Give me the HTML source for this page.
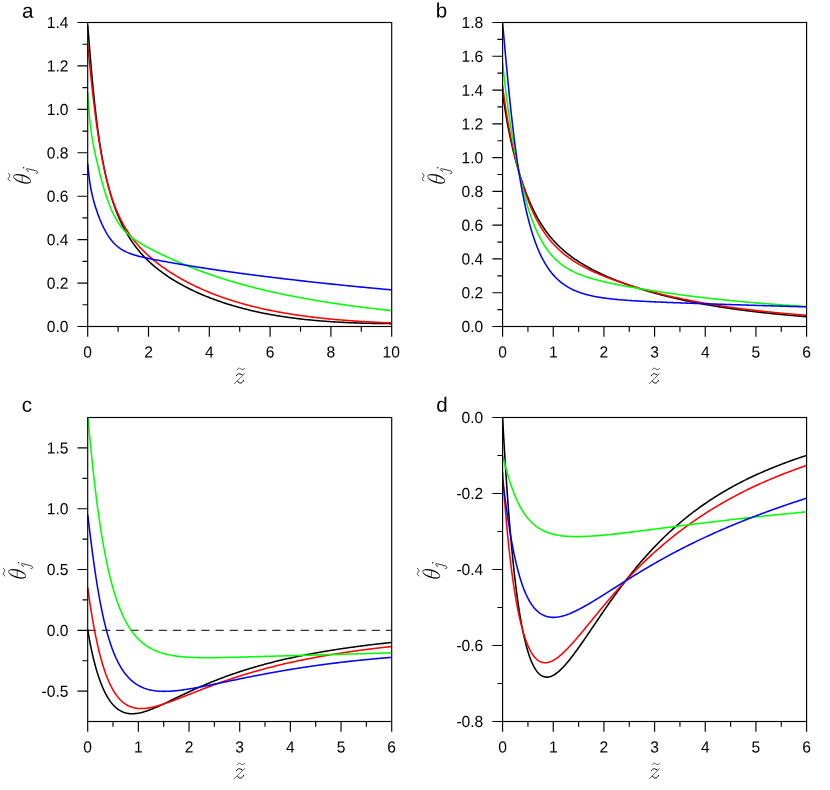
<!DOCTYPE html>
<html><head><meta charset="utf-8"><title>figure</title>
<style>
html,body{margin:0;padding:0;background:#fff;}
body{width:830px;height:790px;position:relative;overflow:hidden;font-family:"Liberation Sans",sans-serif;}
.tk{filter:grayscale(1);font-family:"Liberation Sans",sans-serif;font-size:16.1px;fill:#000;}
.pl{filter:grayscale(1);font-family:"Liberation Sans",sans-serif;font-size:20.6px;fill:#000;}
</style></head><body>
<svg width="830" height="790" viewBox="0 0 830 790" style="position:absolute;left:0;top:0;opacity:0.999">
<g>
<clipPath id="cpa"><rect x="87.10" y="22.30" width="305.20" height="304.40"/></clipPath>
<g clip-path="url(#cpa)" fill="none" stroke-width="1.55" stroke-linejoin="round">
<path d="M87.70 25.17 L87.95 28.26 L88.21 31.38 L88.46 34.50 L88.71 37.63 L88.97 40.75 L89.22 43.87 L89.47 46.97 L89.73 50.06 L89.98 53.12 L90.23 56.16 L90.49 59.17 L90.74 62.15 L90.99 65.09 L91.25 68.01 L91.50 70.88 L91.75 73.72 L92.01 76.52 L92.26 79.28 L92.51 82.00 L92.77 84.68 L93.02 87.31 L93.27 89.91 L93.53 92.47 L93.78 94.98 L94.03 97.45 L94.29 99.88 L94.54 102.27 L94.79 104.62 L95.05 106.93 L95.30 109.20 L95.55 111.43 L95.81 113.62 L96.06 115.77 L96.31 117.89 L96.57 119.96 L96.82 122.01 L97.07 124.01 L97.33 125.98 L97.58 127.92 L97.83 129.82 L98.09 131.69 L98.34 133.52 L98.59 135.33 L98.85 137.10 L99.10 138.84 L99.35 140.55 L99.61 142.23 L99.86 143.88 L100.11 145.51 L100.37 147.11 L100.62 148.68 L100.87 150.22 L101.13 151.74 L101.38 153.23 L101.63 154.70 L101.89 156.14 L102.14 157.56 L102.39 158.96 L102.65 160.33 L102.90 161.68 L103.15 163.01 L103.41 164.32 L103.66 165.61 L103.91 166.88 L104.17 168.13 L104.42 169.35 L104.67 170.56 L104.93 171.76 L105.18 172.93 L105.43 174.09 L105.69 175.22 L105.94 176.35 L106.19 177.45 L106.45 178.54 L106.70 179.61 L106.95 180.67 L107.21 181.71 L107.46 182.74 L107.71 183.75 L107.97 184.75 L108.22 185.74 L108.47 186.71 L108.73 187.67 L108.98 188.61 L109.23 189.54 L109.49 190.46 L109.74 191.37 L109.99 192.27 L110.25 193.15 L110.50 194.02 L110.75 194.88 L111.01 195.73 L111.26 196.57 L111.51 197.40 L111.77 198.22 L112.02 199.02 L112.27 199.82 L112.53 200.61 L112.78 201.39 L113.03 202.15 L113.29 202.91 L113.54 203.66 L113.79 204.40 L114.05 205.13 L114.30 205.86 L114.55 206.57 L114.81 207.28 L115.06 207.98 L115.31 208.67 L115.57 209.35 L115.82 210.02 L116.07 210.69 L116.33 211.35 L116.58 212.00 L116.83 212.65 L117.09 213.29 L117.34 213.92 L117.59 214.54 L117.85 215.16 L118.10 215.77 L119.24 218.45 L120.39 221.01 L121.53 223.45 L122.68 225.79 L123.82 228.03 L124.97 230.18 L126.11 232.24 L127.26 234.22 L128.40 236.12 L129.55 237.96 L130.69 239.73 L131.84 241.43 L132.98 243.08 L134.13 244.67 L135.27 246.21 L136.42 247.70 L137.56 249.14 L138.71 250.54 L139.85 251.90 L141.00 253.21 L142.14 254.49 L143.28 255.74 L144.43 256.95 L145.57 258.13 L146.72 259.28 L147.86 260.40 L149.01 261.49 L150.15 262.55 L151.30 263.59 L152.44 264.61 L153.59 265.60 L154.73 266.57 L155.88 267.52 L157.02 268.45 L158.17 269.36 L159.31 270.25 L160.46 271.12 L161.60 271.98 L162.75 272.82 L163.89 273.64 L165.04 274.45 L166.18 275.24 L167.33 276.02 L168.47 276.79 L169.61 277.54 L170.76 278.28 L171.90 279.01 L173.05 279.72 L174.19 280.42 L175.34 281.11 L176.48 281.79 L177.63 282.46 L178.77 283.12 L179.92 283.77 L181.06 284.41 L182.21 285.04 L183.35 285.66 L184.50 286.27 L185.64 286.87 L186.79 287.46 L187.93 288.04 L189.08 288.62 L190.22 289.19 L191.37 289.75 L192.51 290.30 L193.65 290.84 L194.80 291.38 L195.94 291.91 L197.09 292.43 L198.23 292.94 L199.38 293.45 L200.52 293.95 L201.67 294.44 L202.81 294.93 L203.96 295.41 L205.10 295.88 L206.25 296.35 L207.39 296.81 L208.54 297.27 L209.68 297.72 L210.83 298.16 L211.97 298.60 L213.12 299.03 L214.26 299.45 L215.41 299.87 L216.55 300.29 L217.69 300.70 L218.84 301.10 L219.98 301.50 L221.13 301.89 L222.27 302.28 L223.42 302.66 L224.56 303.04 L225.71 303.41 L226.85 303.78 L228.00 304.14 L229.14 304.50 L230.29 304.85 L231.43 305.20 L232.58 305.54 L233.72 305.88 L234.87 306.21 L236.01 306.54 L237.16 306.86 L238.30 307.18 L239.45 307.50 L240.59 307.81 L241.74 308.11 L242.88 308.42 L244.02 308.71 L245.17 309.01 L246.31 309.30 L247.46 309.58 L248.60 309.86 L249.75 310.14 L250.89 310.41 L252.04 310.68 L253.18 310.95 L254.33 311.21 L255.47 311.47 L256.62 311.72 L257.76 311.97 L258.91 312.22 L260.05 312.46 L261.20 312.70 L262.34 312.93 L263.49 313.16 L264.63 313.39 L265.78 313.62 L266.92 313.84 L268.06 314.06 L269.21 314.27 L270.35 314.48 L271.50 314.69 L272.64 314.89 L273.79 315.09 L274.93 315.29 L276.08 315.49 L277.22 315.68 L278.37 315.87 L279.51 316.05 L280.66 316.23 L281.80 316.41 L282.95 316.59 L284.09 316.76 L285.24 316.93 L286.38 317.10 L287.53 317.26 L288.67 317.42 L289.82 317.58 L290.96 317.74 L292.11 317.89 L293.25 318.04 L294.39 318.19 L295.54 318.34 L296.68 318.48 L297.83 318.62 L298.97 318.75 L300.12 318.89 L301.26 319.02 L302.41 319.15 L303.55 319.28 L304.70 319.40 L305.84 319.53 L306.99 319.65 L308.13 319.76 L309.28 319.88 L310.42 319.99 L311.57 320.10 L312.71 320.21 L313.86 320.32 L315.00 320.42 L316.15 320.53 L317.29 320.63 L318.43 320.72 L319.58 320.82 L320.72 320.91 L321.87 321.00 L323.01 321.09 L324.16 321.18 L325.30 321.27 L326.45 321.35 L327.59 321.43 L328.74 321.51 L329.88 321.59 L331.03 321.67 L332.17 321.74 L333.32 321.82 L334.46 321.89 L335.61 321.96 L336.75 322.02 L337.90 322.09 L339.04 322.15 L340.19 322.22 L341.33 322.28 L342.47 322.34 L343.62 322.39 L344.76 322.45 L345.91 322.50 L347.05 322.56 L348.20 322.61 L349.34 322.66 L350.49 322.71 L351.63 322.75 L352.78 322.80 L353.92 322.84 L355.07 322.89 L356.21 322.93 L357.36 322.97 L358.50 323.01 L359.65 323.04 L360.79 323.08 L361.94 323.11 L363.08 323.15 L364.23 323.18 L365.37 323.21 L366.52 323.24 L367.66 323.27 L368.80 323.30 L369.95 323.32 L371.09 323.35 L372.24 323.37 L373.38 323.40 L374.53 323.42 L375.67 323.44 L376.82 323.46 L377.96 323.48 L379.11 323.49 L380.25 323.51 L381.40 323.53 L382.54 323.54 L383.69 323.56 L384.83 323.57 L385.98 323.58 L387.12 323.59 L388.27 323.60 L389.41 323.61 L390.56 323.62 L391.70 323.63" stroke="#000000"/>
<path d="M87.70 44.38 L87.95 46.95 L88.21 49.53 L88.46 52.10 L88.71 54.67 L88.97 57.23 L89.22 59.79 L89.47 62.33 L89.73 64.86 L89.98 67.38 L90.23 69.87 L90.49 72.35 L90.74 74.81 L90.99 77.24 L91.25 79.66 L91.50 82.05 L91.75 84.41 L92.01 86.75 L92.26 89.07 L92.51 91.36 L92.77 93.62 L93.02 95.86 L93.27 98.06 L93.53 100.25 L93.78 102.40 L94.03 104.52 L94.29 106.62 L94.54 108.69 L94.79 110.73 L95.05 112.75 L95.30 114.73 L95.55 116.69 L95.81 118.63 L96.06 120.53 L96.31 122.41 L96.57 124.26 L96.82 126.08 L97.07 127.88 L97.33 129.65 L97.58 131.40 L97.83 133.12 L98.09 134.81 L98.34 136.48 L98.59 138.13 L98.85 139.75 L99.10 141.35 L99.35 142.92 L99.61 144.47 L99.86 146.00 L100.11 147.50 L100.37 148.98 L100.62 150.44 L100.87 151.88 L101.13 153.30 L101.38 154.69 L101.63 156.07 L101.89 157.42 L102.14 158.75 L102.39 160.07 L102.65 161.36 L102.90 162.64 L103.15 163.90 L103.41 165.13 L103.66 166.35 L103.91 167.56 L104.17 168.74 L104.42 169.91 L104.67 171.06 L104.93 172.19 L105.18 173.31 L105.43 174.41 L105.69 175.49 L105.94 176.56 L106.19 177.61 L106.45 178.65 L106.70 179.68 L106.95 180.68 L107.21 181.68 L107.46 182.66 L107.71 183.63 L107.97 184.58 L108.22 185.52 L108.47 186.45 L108.73 187.36 L108.98 188.26 L109.23 189.15 L109.49 190.03 L109.74 190.89 L109.99 191.74 L110.25 192.58 L110.50 193.41 L110.75 194.23 L111.01 195.04 L111.26 195.84 L111.51 196.62 L111.77 197.40 L112.02 198.17 L112.27 198.92 L112.53 199.67 L112.78 200.41 L113.03 201.13 L113.29 201.85 L113.54 202.56 L113.79 203.26 L114.05 203.95 L114.30 204.63 L114.55 205.31 L114.81 205.97 L115.06 206.63 L115.31 207.28 L115.57 207.92 L115.82 208.55 L116.07 209.18 L116.33 209.80 L116.58 210.41 L116.83 211.01 L117.09 211.61 L117.34 212.20 L117.59 212.78 L117.85 213.36 L118.10 213.93 L119.24 216.43 L120.39 218.80 L121.53 221.06 L122.68 223.22 L123.82 225.28 L124.97 227.25 L126.11 229.14 L127.26 230.95 L128.40 232.69 L129.55 234.37 L130.69 235.99 L131.84 237.55 L132.98 239.05 L134.13 240.51 L135.27 241.92 L136.42 243.29 L137.56 244.61 L138.71 245.90 L139.85 247.16 L141.00 248.38 L142.14 249.57 L143.28 250.72 L144.43 251.86 L145.57 252.96 L146.72 254.04 L147.86 255.10 L149.01 256.13 L150.15 257.14 L151.30 258.13 L152.44 259.10 L153.59 260.06 L154.73 260.99 L155.88 261.91 L157.02 262.81 L158.17 263.70 L159.31 264.57 L160.46 265.42 L161.60 266.26 L162.75 267.09 L163.89 267.90 L165.04 268.70 L166.18 269.49 L167.33 270.27 L168.47 271.03 L169.61 271.78 L170.76 272.53 L171.90 273.26 L173.05 273.98 L174.19 274.69 L175.34 275.39 L176.48 276.08 L177.63 276.76 L178.77 277.43 L179.92 278.09 L181.06 278.74 L182.21 279.38 L183.35 280.02 L184.50 280.64 L185.64 281.26 L186.79 281.87 L187.93 282.47 L189.08 283.06 L190.22 283.65 L191.37 284.23 L192.51 284.80 L193.65 285.36 L194.80 285.91 L195.94 286.46 L197.09 287.00 L198.23 287.54 L199.38 288.06 L200.52 288.58 L201.67 289.10 L202.81 289.60 L203.96 290.10 L205.10 290.60 L206.25 291.08 L207.39 291.57 L208.54 292.04 L209.68 292.51 L210.83 292.97 L211.97 293.43 L213.12 293.88 L214.26 294.32 L215.41 294.76 L216.55 295.20 L217.69 295.63 L218.84 296.05 L219.98 296.47 L221.13 296.88 L222.27 297.29 L223.42 297.69 L224.56 298.08 L225.71 298.48 L226.85 298.86 L228.00 299.24 L229.14 299.62 L230.29 299.99 L231.43 300.36 L232.58 300.72 L233.72 301.08 L234.87 301.43 L236.01 301.78 L237.16 302.12 L238.30 302.46 L239.45 302.80 L240.59 303.13 L241.74 303.46 L242.88 303.78 L244.02 304.10 L245.17 304.41 L246.31 304.72 L247.46 305.03 L248.60 305.33 L249.75 305.63 L250.89 305.92 L252.04 306.21 L253.18 306.50 L254.33 306.78 L255.47 307.06 L256.62 307.33 L257.76 307.60 L258.91 307.87 L260.05 308.14 L261.20 308.40 L262.34 308.66 L263.49 308.91 L264.63 309.16 L265.78 309.41 L266.92 309.65 L268.06 309.89 L269.21 310.13 L270.35 310.37 L271.50 310.60 L272.64 310.82 L273.79 311.05 L274.93 311.27 L276.08 311.49 L277.22 311.71 L278.37 311.92 L279.51 312.13 L280.66 312.34 L281.80 312.54 L282.95 312.74 L284.09 312.94 L285.24 313.14 L286.38 313.33 L287.53 313.53 L288.67 313.71 L289.82 313.90 L290.96 314.08 L292.11 314.26 L293.25 314.44 L294.39 314.62 L295.54 314.79 L296.68 314.96 L297.83 315.13 L298.97 315.30 L300.12 315.46 L301.26 315.62 L302.41 315.78 L303.55 315.94 L304.70 316.09 L305.84 316.24 L306.99 316.39 L308.13 316.54 L309.28 316.69 L310.42 316.83 L311.57 316.97 L312.71 317.11 L313.86 317.25 L315.00 317.39 L316.15 317.52 L317.29 317.65 L318.43 317.78 L319.58 317.91 L320.72 318.03 L321.87 318.16 L323.01 318.28 L324.16 318.40 L325.30 318.52 L326.45 318.64 L327.59 318.75 L328.74 318.87 L329.88 318.98 L331.03 319.09 L332.17 319.19 L333.32 319.30 L334.46 319.41 L335.61 319.51 L336.75 319.61 L337.90 319.71 L339.04 319.81 L340.19 319.91 L341.33 320.00 L342.47 320.10 L343.62 320.19 L344.76 320.28 L345.91 320.37 L347.05 320.46 L348.20 320.54 L349.34 320.63 L350.49 320.71 L351.63 320.80 L352.78 320.88 L353.92 320.96 L355.07 321.04 L356.21 321.11 L357.36 321.19 L358.50 321.26 L359.65 321.34 L360.79 321.41 L361.94 321.48 L363.08 321.55 L364.23 321.62 L365.37 321.68 L366.52 321.75 L367.66 321.82 L368.80 321.88 L369.95 321.94 L371.09 322.00 L372.24 322.06 L373.38 322.12 L374.53 322.18 L375.67 322.24 L376.82 322.30 L377.96 322.35 L379.11 322.40 L380.25 322.46 L381.40 322.51 L382.54 322.56 L383.69 322.61 L384.83 322.66 L385.98 322.71 L387.12 322.76 L388.27 322.80 L389.41 322.85 L390.56 322.89 L391.70 322.94" stroke="#ff0000"/>
<path d="M87.70 92.07 L87.95 96.48 L88.21 100.55 L88.46 104.31 L88.71 107.79 L88.97 111.01 L89.22 114.00 L89.47 116.79 L89.73 119.39 L89.98 121.83 L90.23 124.11 L90.49 126.27 L90.74 128.31 L90.99 130.24 L91.25 132.07 L91.50 133.82 L91.75 135.50 L92.01 137.11 L92.26 138.65 L92.51 140.15 L92.77 141.59 L93.02 142.99 L93.27 144.36 L93.53 145.69 L93.78 146.99 L94.03 148.26 L94.29 149.51 L94.54 150.73 L94.79 151.94 L95.05 153.13 L95.30 154.30 L95.55 155.46 L95.81 156.61 L96.06 157.74 L96.31 158.86 L96.57 159.97 L96.82 161.07 L97.07 162.16 L97.33 163.24 L97.58 164.32 L97.83 165.38 L98.09 166.44 L98.34 167.49 L98.59 168.53 L98.85 169.57 L99.10 170.59 L99.35 171.61 L99.61 172.62 L99.86 173.62 L100.11 174.62 L100.37 175.60 L100.62 176.58 L100.87 177.55 L101.13 178.51 L101.38 179.47 L101.63 180.41 L101.89 181.35 L102.14 182.27 L102.39 183.19 L102.65 184.10 L102.90 185.00 L103.15 185.90 L103.41 186.78 L103.66 187.65 L103.91 188.51 L104.17 189.37 L104.42 190.21 L104.67 191.05 L104.93 191.87 L105.18 192.69 L105.43 193.50 L105.69 194.29 L105.94 195.08 L106.19 195.86 L106.45 196.63 L106.70 197.38 L106.95 198.13 L107.21 198.87 L107.46 199.60 L107.71 200.32 L107.97 201.03 L108.22 201.73 L108.47 202.42 L108.73 203.10 L108.98 203.77 L109.23 204.43 L109.49 205.09 L109.74 205.73 L109.99 206.37 L110.25 206.99 L110.50 207.61 L110.75 208.22 L111.01 208.81 L111.26 209.40 L111.51 209.99 L111.77 210.56 L112.02 211.12 L112.27 211.68 L112.53 212.23 L112.78 212.77 L113.03 213.30 L113.29 213.82 L113.54 214.34 L113.79 214.85 L114.05 215.35 L114.30 215.84 L114.55 216.33 L114.81 216.81 L115.06 217.28 L115.31 217.74 L115.57 218.20 L115.82 218.65 L116.07 219.09 L116.33 219.53 L116.58 219.96 L116.83 220.38 L117.09 220.80 L117.34 221.21 L117.59 221.62 L117.85 222.02 L118.10 222.41 L119.24 224.12 L120.39 225.71 L121.53 227.21 L122.68 228.61 L123.82 229.93 L124.97 231.18 L126.11 232.35 L127.26 233.46 L128.40 234.52 L129.55 235.52 L130.69 236.47 L131.84 237.39 L132.98 238.26 L134.13 239.10 L135.27 239.91 L136.42 240.69 L137.56 241.45 L138.71 242.19 L139.85 242.90 L141.00 243.60 L142.14 244.28 L143.28 244.94 L144.43 245.60 L145.57 246.24 L146.72 246.87 L147.86 247.49 L149.01 248.10 L150.15 248.70 L151.30 249.30 L152.44 249.89 L153.59 250.47 L154.73 251.05 L155.88 251.62 L157.02 252.18 L158.17 252.75 L159.31 253.30 L160.46 253.86 L161.60 254.40 L162.75 254.95 L163.89 255.49 L165.04 256.03 L166.18 256.56 L167.33 257.09 L168.47 257.62 L169.61 258.14 L170.76 258.66 L171.90 259.18 L173.05 259.69 L174.19 260.20 L175.34 260.71 L176.48 261.21 L177.63 261.71 L178.77 262.20 L179.92 262.70 L181.06 263.19 L182.21 263.67 L183.35 264.15 L184.50 264.63 L185.64 265.11 L186.79 265.58 L187.93 266.05 L189.08 266.51 L190.22 266.98 L191.37 267.43 L192.51 267.89 L193.65 268.34 L194.80 268.79 L195.94 269.23 L197.09 269.67 L198.23 270.11 L199.38 270.54 L200.52 270.97 L201.67 271.40 L202.81 271.82 L203.96 272.24 L205.10 272.66 L206.25 273.07 L207.39 273.48 L208.54 273.89 L209.68 274.29 L210.83 274.69 L211.97 275.09 L213.12 275.48 L214.26 275.87 L215.41 276.26 L216.55 276.64 L217.69 277.02 L218.84 277.40 L219.98 277.77 L221.13 278.14 L222.27 278.51 L223.42 278.88 L224.56 279.24 L225.71 279.60 L226.85 279.95 L228.00 280.30 L229.14 280.65 L230.29 281.00 L231.43 281.34 L232.58 281.68 L233.72 282.02 L234.87 282.36 L236.01 282.69 L237.16 283.02 L238.30 283.34 L239.45 283.67 L240.59 283.99 L241.74 284.31 L242.88 284.62 L244.02 284.94 L245.17 285.25 L246.31 285.55 L247.46 285.86 L248.60 286.16 L249.75 286.46 L250.89 286.76 L252.04 287.06 L253.18 287.35 L254.33 287.64 L255.47 287.93 L256.62 288.22 L257.76 288.50 L258.91 288.78 L260.05 289.06 L261.20 289.34 L262.34 289.62 L263.49 289.89 L264.63 290.16 L265.78 290.43 L266.92 290.70 L268.06 290.96 L269.21 291.22 L270.35 291.48 L271.50 291.74 L272.64 292.00 L273.79 292.25 L274.93 292.50 L276.08 292.75 L277.22 293.00 L278.37 293.25 L279.51 293.50 L280.66 293.74 L281.80 293.98 L282.95 294.22 L284.09 294.46 L285.24 294.69 L286.38 294.93 L287.53 295.16 L288.67 295.39 L289.82 295.62 L290.96 295.84 L292.11 296.07 L293.25 296.29 L294.39 296.52 L295.54 296.74 L296.68 296.96 L297.83 297.17 L298.97 297.39 L300.12 297.60 L301.26 297.82 L302.41 298.03 L303.55 298.24 L304.70 298.44 L305.84 298.65 L306.99 298.86 L308.13 299.06 L309.28 299.26 L310.42 299.46 L311.57 299.66 L312.71 299.86 L313.86 300.05 L315.00 300.25 L316.15 300.44 L317.29 300.64 L318.43 300.83 L319.58 301.02 L320.72 301.20 L321.87 301.39 L323.01 301.58 L324.16 301.76 L325.30 301.94 L326.45 302.12 L327.59 302.31 L328.74 302.48 L329.88 302.66 L331.03 302.84 L332.17 303.01 L333.32 303.19 L334.46 303.36 L335.61 303.53 L336.75 303.70 L337.90 303.87 L339.04 304.04 L340.19 304.21 L341.33 304.37 L342.47 304.54 L343.62 304.70 L344.76 304.86 L345.91 305.02 L347.05 305.18 L348.20 305.34 L349.34 305.50 L350.49 305.66 L351.63 305.81 L352.78 305.97 L353.92 306.12 L355.07 306.27 L356.21 306.42 L357.36 306.58 L358.50 306.72 L359.65 306.87 L360.79 307.02 L361.94 307.17 L363.08 307.31 L364.23 307.46 L365.37 307.60 L366.52 307.74 L367.66 307.88 L368.80 308.02 L369.95 308.16 L371.09 308.30 L372.24 308.44 L373.38 308.57 L374.53 308.71 L375.67 308.84 L376.82 308.98 L377.96 309.11 L379.11 309.24 L380.25 309.37 L381.40 309.50 L382.54 309.63 L383.69 309.76 L384.83 309.88 L385.98 310.01 L387.12 310.13 L388.27 310.26 L389.41 310.38 L390.56 310.51 L391.70 310.63" stroke="#00ff00"/>
<path d="M87.70 163.51 L87.95 166.35 L88.21 168.99 L88.46 171.45 L88.71 173.74 L88.97 175.90 L89.22 177.91 L89.47 179.81 L89.73 181.59 L89.98 183.28 L90.23 184.88 L90.49 186.39 L90.74 187.83 L90.99 189.21 L91.25 190.52 L91.50 191.77 L91.75 192.98 L92.01 194.14 L92.26 195.25 L92.51 196.33 L92.77 197.38 L93.02 198.39 L93.27 199.37 L93.53 200.33 L93.78 201.26 L94.03 202.17 L94.29 203.05 L94.54 203.92 L94.79 204.77 L95.05 205.61 L95.30 206.42 L95.55 207.23 L95.81 208.02 L96.06 208.79 L96.31 209.56 L96.57 210.31 L96.82 211.05 L97.07 211.78 L97.33 212.50 L97.58 213.21 L97.83 213.91 L98.09 214.61 L98.34 215.29 L98.59 215.96 L98.85 216.63 L99.10 217.28 L99.35 217.93 L99.61 218.57 L99.86 219.20 L100.11 219.83 L100.37 220.44 L100.62 221.05 L100.87 221.65 L101.13 222.24 L101.38 222.82 L101.63 223.40 L101.89 223.97 L102.14 224.53 L102.39 225.09 L102.65 225.63 L102.90 226.17 L103.15 226.70 L103.41 227.23 L103.66 227.74 L103.91 228.25 L104.17 228.76 L104.42 229.25 L104.67 229.74 L104.93 230.22 L105.18 230.69 L105.43 231.16 L105.69 231.62 L105.94 232.07 L106.19 232.52 L106.45 232.96 L106.70 233.39 L106.95 233.82 L107.21 234.23 L107.46 234.65 L107.71 235.05 L107.97 235.45 L108.22 235.85 L108.47 236.23 L108.73 236.61 L108.98 236.99 L109.23 237.36 L109.49 237.72 L109.74 238.07 L109.99 238.42 L110.25 238.77 L110.50 239.11 L110.75 239.44 L111.01 239.77 L111.26 240.09 L111.51 240.41 L111.77 240.72 L112.02 241.02 L112.27 241.32 L112.53 241.62 L112.78 241.91 L113.03 242.19 L113.29 242.47 L113.54 242.75 L113.79 243.02 L114.05 243.29 L114.30 243.55 L114.55 243.81 L114.81 244.06 L115.06 244.31 L115.31 244.55 L115.57 244.79 L115.82 245.03 L116.07 245.26 L116.33 245.48 L116.58 245.71 L116.83 245.93 L117.09 246.14 L117.34 246.35 L117.59 246.56 L117.85 246.77 L118.10 246.97 L119.24 247.84 L120.39 248.64 L121.53 249.38 L122.68 250.07 L123.82 250.71 L124.97 251.30 L126.11 251.86 L127.26 252.38 L128.40 252.86 L129.55 253.32 L130.69 253.74 L131.84 254.15 L132.98 254.53 L134.13 254.89 L135.27 255.24 L136.42 255.57 L137.56 255.88 L138.71 256.19 L139.85 256.48 L141.00 256.76 L142.14 257.04 L143.28 257.30 L144.43 257.56 L145.57 257.81 L146.72 258.06 L147.86 258.30 L149.01 258.54 L150.15 258.77 L151.30 259.00 L152.44 259.23 L153.59 259.45 L154.73 259.68 L155.88 259.89 L157.02 260.11 L158.17 260.33 L159.31 260.54 L160.46 260.75 L161.60 260.96 L162.75 261.17 L163.89 261.38 L165.04 261.58 L166.18 261.79 L167.33 261.99 L168.47 262.20 L169.61 262.40 L170.76 262.60 L171.90 262.80 L173.05 263.00 L174.19 263.20 L175.34 263.40 L176.48 263.59 L177.63 263.79 L178.77 263.99 L179.92 264.18 L181.06 264.37 L182.21 264.57 L183.35 264.76 L184.50 264.95 L185.64 265.14 L186.79 265.33 L187.93 265.52 L189.08 265.70 L190.22 265.89 L191.37 266.08 L192.51 266.26 L193.65 266.45 L194.80 266.63 L195.94 266.81 L197.09 266.99 L198.23 267.17 L199.38 267.35 L200.52 267.53 L201.67 267.71 L202.81 267.89 L203.96 268.07 L205.10 268.24 L206.25 268.42 L207.39 268.59 L208.54 268.76 L209.68 268.94 L210.83 269.11 L211.97 269.28 L213.12 269.45 L214.26 269.62 L215.41 269.79 L216.55 269.95 L217.69 270.12 L218.84 270.29 L219.98 270.45 L221.13 270.62 L222.27 270.78 L223.42 270.95 L224.56 271.11 L225.71 271.27 L226.85 271.43 L228.00 271.59 L229.14 271.75 L230.29 271.91 L231.43 272.07 L232.58 272.23 L233.72 272.38 L234.87 272.54 L236.01 272.70 L237.16 272.85 L238.30 273.01 L239.45 273.16 L240.59 273.31 L241.74 273.47 L242.88 273.62 L244.02 273.77 L245.17 273.92 L246.31 274.07 L247.46 274.22 L248.60 274.37 L249.75 274.52 L250.89 274.67 L252.04 274.82 L253.18 274.97 L254.33 275.11 L255.47 275.26 L256.62 275.40 L257.76 275.55 L258.91 275.69 L260.05 275.84 L261.20 275.98 L262.34 276.13 L263.49 276.27 L264.63 276.41 L265.78 276.55 L266.92 276.70 L268.06 276.84 L269.21 276.98 L270.35 277.12 L271.50 277.26 L272.64 277.40 L273.79 277.54 L274.93 277.67 L276.08 277.81 L277.22 277.95 L278.37 278.09 L279.51 278.23 L280.66 278.36 L281.80 278.50 L282.95 278.63 L284.09 278.77 L285.24 278.90 L286.38 279.04 L287.53 279.17 L288.67 279.31 L289.82 279.44 L290.96 279.57 L292.11 279.70 L293.25 279.84 L294.39 279.97 L295.54 280.10 L296.68 280.23 L297.83 280.36 L298.97 280.49 L300.12 280.62 L301.26 280.75 L302.41 280.88 L303.55 281.01 L304.70 281.14 L305.84 281.27 L306.99 281.40 L308.13 281.52 L309.28 281.65 L310.42 281.78 L311.57 281.90 L312.71 282.03 L313.86 282.15 L315.00 282.28 L316.15 282.40 L317.29 282.53 L318.43 282.65 L319.58 282.78 L320.72 282.90 L321.87 283.02 L323.01 283.15 L324.16 283.27 L325.30 283.39 L326.45 283.51 L327.59 283.63 L328.74 283.76 L329.88 283.88 L331.03 284.00 L332.17 284.12 L333.32 284.24 L334.46 284.36 L335.61 284.48 L336.75 284.59 L337.90 284.71 L339.04 284.83 L340.19 284.95 L341.33 285.07 L342.47 285.18 L343.62 285.30 L344.76 285.41 L345.91 285.53 L347.05 285.65 L348.20 285.76 L349.34 285.88 L350.49 285.99 L351.63 286.10 L352.78 286.22 L353.92 286.33 L355.07 286.45 L356.21 286.56 L357.36 286.67 L358.50 286.78 L359.65 286.89 L360.79 287.01 L361.94 287.12 L363.08 287.23 L364.23 287.34 L365.37 287.45 L366.52 287.56 L367.66 287.67 L368.80 287.77 L369.95 287.88 L371.09 287.99 L372.24 288.10 L373.38 288.21 L374.53 288.31 L375.67 288.42 L376.82 288.53 L377.96 288.63 L379.11 288.74 L380.25 288.84 L381.40 288.95 L382.54 289.05 L383.69 289.16 L384.83 289.26 L385.98 289.37 L387.12 289.47 L388.27 289.57 L389.41 289.67 L390.56 289.78 L391.70 289.88" stroke="#0000ff"/>
</g>
<rect x="87.70" y="22.50" width="304.00" height="304.00" fill="none" stroke="#000" stroke-width="1.15"/>
<path d="M87.70 326.50 v10.2 M148.50 326.50 v10.2 M209.30 326.50 v10.2 M270.10 326.50 v10.2 M330.90 326.50 v10.2 M391.70 326.50 v10.2 M118.10 326.50 v5.2 M178.90 326.50 v5.2 M239.70 326.50 v5.2 M300.50 326.50 v5.2 M361.30 326.50 v5.2 M87.70 326.50 h-10.2 M87.70 283.07 h-10.2 M87.70 239.64 h-10.2 M87.70 196.21 h-10.2 M87.70 152.79 h-10.2 M87.70 109.36 h-10.2 M87.70 65.93 h-10.2 M87.70 22.50 h-10.2 M87.70 304.79 h-5.2 M87.70 261.36 h-5.2 M87.70 217.93 h-5.2 M87.70 174.50 h-5.2 M87.70 131.07 h-5.2 M87.70 87.64 h-5.2 M87.70 44.21 h-5.2" stroke="#000" stroke-width="1.15" fill="none"/>
<text transform="translate(87.70 357.40) scale(0.97 1) rotate(0.03)" text-anchor="middle" class="tk">0</text>
<text transform="translate(148.50 357.40) scale(0.97 1) rotate(0.03)" text-anchor="middle" class="tk">2</text>
<text transform="translate(209.30 357.40) scale(0.97 1) rotate(0.03)" text-anchor="middle" class="tk">4</text>
<text transform="translate(270.10 357.40) scale(0.97 1) rotate(0.03)" text-anchor="middle" class="tk">6</text>
<text transform="translate(330.90 357.40) scale(0.97 1) rotate(0.03)" text-anchor="middle" class="tk">8</text>
<text transform="translate(391.30 357.40) scale(0.97 1) rotate(0.03)" text-anchor="middle" class="tk">10</text>
<text transform="translate(68.40 332.10) scale(0.97 1) rotate(0.03)" text-anchor="end" class="tk">0.0</text>
<text transform="translate(68.40 288.67) scale(0.97 1) rotate(0.03)" text-anchor="end" class="tk">0.2</text>
<text transform="translate(68.40 245.24) scale(0.97 1) rotate(0.03)" text-anchor="end" class="tk">0.4</text>
<text transform="translate(68.40 201.81) scale(0.97 1) rotate(0.03)" text-anchor="end" class="tk">0.6</text>
<text transform="translate(68.40 158.39) scale(0.97 1) rotate(0.03)" text-anchor="end" class="tk">0.8</text>
<text transform="translate(68.40 114.96) scale(0.97 1) rotate(0.03)" text-anchor="end" class="tk">1.0</text>
<text transform="translate(68.40 71.53) scale(0.97 1) rotate(0.03)" text-anchor="end" class="tk">1.2</text>
<text transform="translate(68.40 28.10) scale(0.97 1) rotate(0.03)" text-anchor="end" class="tk">1.4</text>
<text transform="translate(22.06 17.70) rotate(0.03)" class="pl">a</text>
<g transform="translate(239.70 326.50)"><g transform="translate(-5.4 46.6)" fill="none" stroke="#000" stroke-linecap="round" stroke-linejoin="round"><path d="M2 2.7 C2.9 1.3 4 0.55 5 0.6 C6.2 0.7 6.9 1.5 7.9 1.8" stroke-width="1.0"/><path d="M10.4 0.45 L0.05 10.65" stroke-width="0.6"/><path d="M3.3 8.2 C4.1 9.3 5 10 6 10 C7.4 10 8.7 8.9 9.3 7.2" stroke-width="1.0"/><path d="M3 -3.3 C3.6 -4.4 4.3 -5 5 -5 C6 -5 6.8 -3.6 7.9 -3.5 C8.9 -3.5 9.7 -4 10.4 -4.7" stroke-width="0.65"/></g>
</g>
<g transform="translate(87.70 174.50)"><g transform="translate(-56.7 8.8) rotate(-90)" stroke-linecap="round" stroke-linejoin="round"><g transform="translate(4.5 -8.85) skewX(-14.9)"><path fill="#000" fill-rule="evenodd" stroke="none" d="M0 -8.85 C2.4 -8.85 4.2 -4.9 4.2 0 C4.2 4.9 2.4 8.85 0 8.85 C-2.4 8.85 -4.2 4.9 -4.2 0 C-4.2 -4.9 -2.4 -8.85 0 -8.85 Z M0 -8.3 C1.6 -8.3 2.9 -4.6 2.9 0 C2.9 4.6 1.6 8.3 0 8.3 C-1.6 8.3 -2.9 4.6 -2.9 0 C-2.9 -4.6 -1.6 -8.3 0 -8.3 Z"/><path d="M-3.3 0.1 L3.3 0.1" stroke="#000" stroke-width="0.6" fill="none"/></g><path d="M2.4 -21.2 C3.1 -22.5 3.9 -23.1 4.8 -22.8 C5.8 -22.4 6.5 -21.3 7.5 -21.3 C8.5 -21.3 9.4 -21.9 10 -22.8" fill="none" stroke="#000" stroke-width="0.75"/><circle cx="15.6" cy="-7.4" r="0.7" fill="#000"/><path d="M11.9 -2.4 C12.5 -3.9 13.5 -4.9 14.2 -4.7 C14.8 -4.5 14.6 -3.4 14.4 -2.6 L12.6 4.6 C12.3 6 11.4 6.8 10.5 6.6 C9.8 6.4 9.5 5.6 9.9 4.9" fill="none" stroke="#000" stroke-width="0.8"/></g>
</g>
</g>
<g>
<clipPath id="cpb"><rect x="502.00" y="22.30" width="305.20" height="304.40"/></clipPath>
<g clip-path="url(#cpb)" fill="none" stroke-width="1.55" stroke-linejoin="round">
<path d="M502.60 92.11 L503.02 95.37 L503.44 98.51 L503.87 101.53 L504.29 104.45 L504.71 107.27 L505.13 110.00 L505.56 112.64 L505.98 115.21 L506.40 117.70 L506.82 120.13 L507.24 122.49 L507.67 124.79 L508.09 127.03 L508.51 129.22 L508.93 131.36 L509.36 133.45 L509.78 135.49 L510.20 137.50 L510.62 139.46 L511.04 141.39 L511.47 143.27 L511.89 145.13 L512.31 146.94 L512.73 148.73 L513.16 150.48 L513.58 152.21 L514.00 153.91 L514.42 155.57 L514.84 157.21 L515.27 158.83 L515.69 160.42 L516.11 161.98 L516.53 163.52 L516.96 165.04 L517.38 166.54 L517.80 168.01 L518.22 169.46 L518.64 170.89 L519.07 172.29 L519.49 173.68 L519.91 175.05 L520.33 176.39 L520.76 177.72 L521.18 179.03 L521.60 180.32 L522.02 181.60 L522.44 182.85 L522.87 184.09 L523.29 185.30 L523.71 186.51 L524.13 187.69 L524.56 188.86 L524.98 190.01 L525.40 191.15 L525.82 192.27 L526.24 193.37 L526.67 194.46 L527.09 195.53 L527.51 196.59 L527.93 197.64 L528.36 198.67 L528.78 199.68 L529.20 200.68 L529.62 201.67 L530.04 202.64 L530.47 203.60 L530.89 204.55 L531.31 205.48 L531.73 206.40 L532.16 207.31 L532.58 208.21 L533.00 209.09 L533.42 209.96 L533.84 210.82 L534.27 211.67 L534.69 212.50 L535.11 213.33 L535.53 214.14 L535.96 214.94 L536.38 215.73 L536.80 216.51 L537.22 217.28 L537.64 218.04 L538.07 218.79 L538.49 219.53 L538.91 220.26 L539.33 220.98 L539.76 221.69 L540.18 222.39 L540.60 223.08 L541.02 223.77 L541.44 224.44 L541.87 225.11 L542.29 225.76 L542.71 226.41 L543.13 227.05 L543.56 227.68 L543.98 228.30 L544.40 228.92 L544.82 229.52 L545.24 230.12 L545.67 230.71 L546.09 231.30 L546.51 231.88 L546.93 232.45 L547.36 233.01 L547.78 233.57 L548.20 234.11 L548.62 234.66 L549.04 235.19 L549.47 235.72 L549.89 236.25 L550.31 236.76 L550.73 237.27 L551.16 237.78 L551.58 238.28 L552.00 238.77 L552.42 239.26 L552.84 239.74 L553.27 240.21 L554.33 241.39 L555.39 242.53 L556.45 243.63 L557.51 244.71 L558.57 245.76 L559.63 246.78 L560.69 247.78 L561.75 248.75 L562.81 249.70 L563.87 250.62 L564.93 251.52 L565.99 252.40 L567.05 253.26 L568.11 254.11 L569.17 254.93 L570.23 255.73 L571.29 256.52 L572.35 257.29 L573.41 258.05 L574.47 258.79 L575.53 259.52 L576.59 260.23 L577.65 260.93 L578.71 261.62 L579.77 262.29 L580.83 262.95 L581.89 263.61 L582.95 264.25 L584.01 264.88 L585.07 265.49 L586.13 266.10 L587.19 266.70 L588.25 267.29 L589.31 267.88 L590.37 268.45 L591.43 269.01 L592.49 269.57 L593.55 270.12 L594.61 270.66 L595.67 271.20 L596.73 271.72 L597.79 272.24 L598.85 272.75 L599.91 273.26 L600.97 273.76 L602.03 274.25 L603.09 274.74 L604.15 275.22 L605.21 275.70 L606.27 276.17 L607.33 276.64 L608.39 277.09 L609.45 277.55 L610.51 278.00 L611.57 278.44 L612.63 278.88 L613.69 279.32 L614.75 279.74 L615.81 280.17 L616.86 280.59 L617.92 281.01 L618.98 281.42 L620.04 281.82 L621.10 282.23 L622.16 282.63 L623.22 283.02 L624.28 283.41 L625.34 283.80 L626.40 284.18 L627.46 284.56 L628.52 284.93 L629.58 285.30 L630.64 285.67 L631.70 286.04 L632.76 286.40 L633.82 286.75 L634.88 287.11 L635.94 287.46 L637.00 287.80 L638.06 288.15 L639.12 288.49 L640.18 288.82 L641.24 289.16 L642.30 289.49 L643.36 289.81 L644.42 290.14 L645.48 290.46 L646.54 290.77 L647.60 291.09 L648.66 291.40 L649.72 291.71 L650.78 292.02 L651.84 292.32 L652.90 292.62 L653.96 292.92 L655.02 293.21 L656.08 293.50 L657.14 293.79 L658.20 294.08 L659.26 294.36 L660.32 294.64 L661.38 294.92 L662.44 295.20 L663.50 295.47 L664.56 295.74 L665.62 296.01 L666.68 296.27 L667.74 296.54 L668.80 296.80 L669.86 297.06 L670.92 297.31 L671.98 297.56 L673.04 297.82 L674.10 298.07 L675.16 298.31 L676.22 298.56 L677.28 298.80 L678.34 299.04 L679.40 299.28 L680.46 299.51 L681.52 299.74 L682.58 299.98 L683.64 300.20 L684.70 300.43 L685.76 300.66 L686.82 300.88 L687.88 301.10 L688.94 301.32 L690.00 301.53 L691.06 301.75 L692.12 301.96 L693.18 302.17 L694.24 302.38 L695.30 302.59 L696.36 302.79 L697.42 303.00 L698.48 303.20 L699.54 303.40 L700.60 303.60 L701.66 303.79 L702.72 303.99 L703.78 304.18 L704.84 304.37 L705.90 304.56 L706.96 304.74 L708.02 304.93 L709.08 305.11 L710.14 305.30 L711.20 305.48 L712.26 305.66 L713.32 305.83 L714.38 306.01 L715.44 306.18 L716.50 306.36 L717.56 306.53 L718.62 306.70 L719.68 306.86 L720.74 307.03 L721.80 307.20 L722.86 307.36 L723.92 307.52 L724.98 307.68 L726.04 307.84 L727.10 308.00 L728.16 308.16 L729.22 308.31 L730.28 308.47 L731.34 308.62 L732.40 308.77 L733.46 308.92 L734.52 309.07 L735.58 309.22 L736.64 309.36 L737.70 309.51 L738.76 309.65 L739.82 309.79 L740.88 309.93 L741.94 310.07 L743.00 310.21 L744.06 310.35 L745.12 310.48 L746.18 310.62 L747.24 310.75 L748.30 310.89 L749.36 311.02 L750.42 311.15 L751.48 311.28 L752.54 311.41 L753.60 311.53 L754.66 311.66 L755.72 311.78 L756.78 311.91 L757.84 312.03 L758.90 312.15 L759.96 312.27 L761.02 312.39 L762.08 312.51 L763.14 312.63 L764.20 312.75 L765.26 312.86 L766.32 312.98 L767.38 313.09 L768.44 313.20 L769.50 313.32 L770.56 313.43 L771.62 313.54 L772.68 313.65 L773.74 313.76 L774.80 313.86 L775.86 313.97 L776.92 314.08 L777.98 314.18 L779.04 314.29 L780.10 314.39 L781.16 314.49 L782.22 314.59 L783.28 314.69 L784.34 314.79 L785.40 314.89 L786.46 314.99 L787.52 315.09 L788.58 315.19 L789.64 315.28 L790.70 315.38 L791.76 315.47 L792.82 315.57 L793.88 315.66 L794.94 315.75 L796.00 315.85 L797.06 315.94 L798.12 316.03 L799.18 316.12 L800.24 316.21 L801.30 316.29 L802.36 316.38 L803.42 316.47 L804.48 316.56 L805.54 316.64 L806.60 316.73" stroke="#000000"/>
<path d="M502.60 85.69 L503.02 89.08 L503.44 92.36 L503.87 95.53 L504.29 98.60 L504.71 101.59 L505.13 104.48 L505.56 107.30 L505.98 110.04 L506.40 112.71 L506.82 115.32 L507.24 117.86 L507.67 120.34 L508.09 122.77 L508.51 125.14 L508.93 127.47 L509.36 129.75 L509.78 131.98 L510.20 134.17 L510.62 136.31 L511.04 138.42 L511.47 140.49 L511.89 142.52 L512.31 144.52 L512.73 146.48 L513.16 148.41 L513.58 150.30 L514.00 152.17 L514.42 154.00 L514.84 155.81 L515.27 157.58 L515.69 159.33 L516.11 161.05 L516.53 162.74 L516.96 164.41 L517.38 166.05 L517.80 167.67 L518.22 169.26 L518.64 170.83 L519.07 172.37 L519.49 173.89 L519.91 175.39 L520.33 176.86 L520.76 178.31 L521.18 179.74 L521.60 181.15 L522.02 182.54 L522.44 183.91 L522.87 185.25 L523.29 186.58 L523.71 187.88 L524.13 189.17 L524.56 190.44 L524.98 191.69 L525.40 192.91 L525.82 194.12 L526.24 195.32 L526.67 196.49 L527.09 197.65 L527.51 198.79 L527.93 199.91 L528.36 201.01 L528.78 202.10 L529.20 203.17 L529.62 204.23 L530.04 205.27 L530.47 206.29 L530.89 207.30 L531.31 208.29 L531.73 209.27 L532.16 210.23 L532.58 211.18 L533.00 212.11 L533.42 213.03 L533.84 213.94 L534.27 214.83 L534.69 215.71 L535.11 216.57 L535.53 217.43 L535.96 218.27 L536.38 219.09 L536.80 219.91 L537.22 220.71 L537.64 221.50 L538.07 222.28 L538.49 223.05 L538.91 223.80 L539.33 224.55 L539.76 225.28 L540.18 226.00 L540.60 226.71 L541.02 227.42 L541.44 228.11 L541.87 228.79 L542.29 229.46 L542.71 230.12 L543.13 230.77 L543.56 231.41 L543.98 232.05 L544.40 232.67 L544.82 233.28 L545.24 233.89 L545.67 234.49 L546.09 235.08 L546.51 235.66 L546.93 236.23 L547.36 236.80 L547.78 237.35 L548.20 237.90 L548.62 238.44 L549.04 238.98 L549.47 239.50 L549.89 240.02 L550.31 240.53 L550.73 241.04 L551.16 241.54 L551.58 242.03 L552.00 242.52 L552.42 243.00 L552.84 243.47 L553.27 243.93 L554.33 245.08 L555.39 246.19 L556.45 247.26 L557.51 248.30 L558.57 249.31 L559.63 250.29 L560.69 251.24 L561.75 252.17 L562.81 253.06 L563.87 253.93 L564.93 254.78 L565.99 255.61 L567.05 256.41 L568.11 257.20 L569.17 257.96 L570.23 258.71 L571.29 259.43 L572.35 260.14 L573.41 260.84 L574.47 261.52 L575.53 262.18 L576.59 262.83 L577.65 263.46 L578.71 264.09 L579.77 264.70 L580.83 265.30 L581.89 265.88 L582.95 266.46 L584.01 267.03 L585.07 267.58 L586.13 268.13 L587.19 268.67 L588.25 269.19 L589.31 269.71 L590.37 270.23 L591.43 270.73 L592.49 271.23 L593.55 271.72 L594.61 272.20 L595.67 272.67 L596.73 273.14 L597.79 273.60 L598.85 274.06 L599.91 274.51 L600.97 274.95 L602.03 275.39 L603.09 275.83 L604.15 276.26 L605.21 276.68 L606.27 277.10 L607.33 277.51 L608.39 277.92 L609.45 278.33 L610.51 278.73 L611.57 279.12 L612.63 279.52 L613.69 279.90 L614.75 280.29 L615.81 280.67 L616.86 281.05 L617.92 281.42 L618.98 281.79 L620.04 282.15 L621.10 282.52 L622.16 282.87 L623.22 283.23 L624.28 283.58 L625.34 283.93 L626.40 284.28 L627.46 284.62 L628.52 284.96 L629.58 285.30 L630.64 285.63 L631.70 285.96 L632.76 286.29 L633.82 286.61 L634.88 286.94 L635.94 287.26 L637.00 287.57 L638.06 287.89 L639.12 288.20 L640.18 288.51 L641.24 288.81 L642.30 289.12 L643.36 289.42 L644.42 289.72 L645.48 290.01 L646.54 290.31 L647.60 290.60 L648.66 290.89 L649.72 291.17 L650.78 291.46 L651.84 291.74 L652.90 292.02 L653.96 292.30 L655.02 292.57 L656.08 292.84 L657.14 293.11 L658.20 293.38 L659.26 293.65 L660.32 293.91 L661.38 294.17 L662.44 294.43 L663.50 294.69 L664.56 294.95 L665.62 295.20 L666.68 295.45 L667.74 295.70 L668.80 295.95 L669.86 296.19 L670.92 296.43 L671.98 296.67 L673.04 296.91 L674.10 297.15 L675.16 297.39 L676.22 297.62 L677.28 297.85 L678.34 298.08 L679.40 298.31 L680.46 298.53 L681.52 298.76 L682.58 298.98 L683.64 299.20 L684.70 299.42 L685.76 299.63 L686.82 299.85 L687.88 300.06 L688.94 300.27 L690.00 300.48 L691.06 300.69 L692.12 300.89 L693.18 301.10 L694.24 301.30 L695.30 301.50 L696.36 301.70 L697.42 301.90 L698.48 302.09 L699.54 302.28 L700.60 302.48 L701.66 302.67 L702.72 302.86 L703.78 303.04 L704.84 303.23 L705.90 303.41 L706.96 303.60 L708.02 303.78 L709.08 303.96 L710.14 304.14 L711.20 304.31 L712.26 304.49 L713.32 304.66 L714.38 304.83 L715.44 305.01 L716.50 305.18 L717.56 305.34 L718.62 305.51 L719.68 305.67 L720.74 305.84 L721.80 306.00 L722.86 306.16 L723.92 306.32 L724.98 306.48 L726.04 306.64 L727.10 306.79 L728.16 306.94 L729.22 307.10 L730.28 307.25 L731.34 307.40 L732.40 307.55 L733.46 307.70 L734.52 307.84 L735.58 307.99 L736.64 308.13 L737.70 308.27 L738.76 308.41 L739.82 308.55 L740.88 308.69 L741.94 308.83 L743.00 308.97 L744.06 309.10 L745.12 309.24 L746.18 309.37 L747.24 309.50 L748.30 309.63 L749.36 309.76 L750.42 309.89 L751.48 310.02 L752.54 310.14 L753.60 310.27 L754.66 310.39 L755.72 310.51 L756.78 310.64 L757.84 310.76 L758.90 310.88 L759.96 310.99 L761.02 311.11 L762.08 311.23 L763.14 311.34 L764.20 311.46 L765.26 311.57 L766.32 311.68 L767.38 311.80 L768.44 311.91 L769.50 312.02 L770.56 312.12 L771.62 312.23 L772.68 312.34 L773.74 312.44 L774.80 312.55 L775.86 312.65 L776.92 312.76 L777.98 312.86 L779.04 312.96 L780.10 313.06 L781.16 313.16 L782.22 313.26 L783.28 313.35 L784.34 313.45 L785.40 313.55 L786.46 313.64 L787.52 313.74 L788.58 313.83 L789.64 313.92 L790.70 314.01 L791.76 314.11 L792.82 314.20 L793.88 314.28 L794.94 314.37 L796.00 314.46 L797.06 314.55 L798.12 314.63 L799.18 314.72 L800.24 314.80 L801.30 314.89 L802.36 314.97 L803.42 315.05 L804.48 315.13 L805.54 315.21 L806.60 315.29" stroke="#ff0000"/>
<path d="M502.60 62.88 L503.02 66.86 L503.44 70.73 L503.87 74.52 L504.29 78.22 L504.71 81.85 L505.13 85.39 L505.56 88.87 L505.98 92.27 L506.40 95.60 L506.82 98.88 L507.24 102.09 L507.67 105.24 L508.09 108.33 L508.51 111.37 L508.93 114.35 L509.36 117.28 L509.78 120.16 L510.20 123.00 L510.62 125.78 L511.04 128.51 L511.47 131.20 L511.89 133.85 L512.31 136.45 L512.73 139.01 L513.16 141.52 L513.58 144.00 L514.00 146.43 L514.42 148.83 L514.84 151.18 L515.27 153.50 L515.69 155.77 L516.11 158.01 L516.53 160.21 L516.96 162.38 L517.38 164.51 L517.80 166.61 L518.22 168.67 L518.64 170.69 L519.07 172.68 L519.49 174.64 L519.91 176.57 L520.33 178.46 L520.76 180.32 L521.18 182.15 L521.60 183.95 L522.02 185.71 L522.44 187.45 L522.87 189.16 L523.29 190.83 L523.71 192.48 L524.13 194.10 L524.56 195.69 L524.98 197.26 L525.40 198.79 L525.82 200.30 L526.24 201.78 L526.67 203.24 L527.09 204.67 L527.51 206.07 L527.93 207.45 L528.36 208.81 L528.78 210.14 L529.20 211.45 L529.62 212.73 L530.04 213.99 L530.47 215.23 L530.89 216.44 L531.31 217.63 L531.73 218.80 L532.16 219.95 L532.58 221.08 L533.00 222.19 L533.42 223.28 L533.84 224.34 L534.27 225.39 L534.69 226.42 L535.11 227.43 L535.53 228.42 L535.96 229.39 L536.38 230.35 L536.80 231.29 L537.22 232.20 L537.64 233.11 L538.07 233.99 L538.49 234.86 L538.91 235.72 L539.33 236.55 L539.76 237.37 L540.18 238.18 L540.60 238.97 L541.02 239.75 L541.44 240.51 L541.87 241.26 L542.29 241.99 L542.71 242.71 L543.13 243.42 L543.56 244.11 L543.98 244.80 L544.40 245.46 L544.82 246.12 L545.24 246.76 L545.67 247.40 L546.09 248.02 L546.51 248.62 L546.93 249.22 L547.36 249.81 L547.78 250.38 L548.20 250.95 L548.62 251.50 L549.04 252.05 L549.47 252.58 L549.89 253.11 L550.31 253.62 L550.73 254.13 L551.16 254.63 L551.58 255.11 L552.00 255.59 L552.42 256.06 L552.84 256.52 L553.27 256.98 L554.33 258.08 L555.39 259.13 L556.45 260.14 L557.51 261.11 L558.57 262.03 L559.63 262.91 L560.69 263.76 L561.75 264.57 L562.81 265.35 L563.87 266.09 L564.93 266.81 L565.99 267.49 L567.05 268.15 L568.11 268.79 L569.17 269.40 L570.23 269.98 L571.29 270.55 L572.35 271.09 L573.41 271.62 L574.47 272.12 L575.53 272.61 L576.59 273.09 L577.65 273.54 L578.71 273.99 L579.77 274.41 L580.83 274.83 L581.89 275.23 L582.95 275.62 L584.01 276.00 L585.07 276.37 L586.13 276.73 L587.19 277.08 L588.25 277.42 L589.31 277.75 L590.37 278.08 L591.43 278.39 L592.49 278.70 L593.55 279.00 L594.61 279.30 L595.67 279.59 L596.73 279.87 L597.79 280.15 L598.85 280.42 L599.91 280.69 L600.97 280.95 L602.03 281.21 L603.09 281.47 L604.15 281.72 L605.21 281.96 L606.27 282.21 L607.33 282.45 L608.39 282.68 L609.45 282.92 L610.51 283.15 L611.57 283.37 L612.63 283.60 L613.69 283.82 L614.75 284.04 L615.81 284.25 L616.86 284.47 L617.92 284.68 L618.98 284.89 L620.04 285.10 L621.10 285.30 L622.16 285.51 L623.22 285.71 L624.28 285.91 L625.34 286.11 L626.40 286.30 L627.46 286.50 L628.52 286.69 L629.58 286.88 L630.64 287.07 L631.70 287.26 L632.76 287.45 L633.82 287.64 L634.88 287.82 L635.94 288.01 L637.00 288.19 L638.06 288.37 L639.12 288.55 L640.18 288.73 L641.24 288.91 L642.30 289.08 L643.36 289.26 L644.42 289.43 L645.48 289.61 L646.54 289.78 L647.60 289.95 L648.66 290.12 L649.72 290.29 L650.78 290.46 L651.84 290.62 L652.90 290.79 L653.96 290.96 L655.02 291.12 L656.08 291.28 L657.14 291.45 L658.20 291.61 L659.26 291.77 L660.32 291.93 L661.38 292.08 L662.44 292.24 L663.50 292.40 L664.56 292.55 L665.62 292.71 L666.68 292.86 L667.74 293.01 L668.80 293.17 L669.86 293.32 L670.92 293.47 L671.98 293.62 L673.04 293.76 L674.10 293.91 L675.16 294.06 L676.22 294.20 L677.28 294.35 L678.34 294.49 L679.40 294.64 L680.46 294.78 L681.52 294.92 L682.58 295.06 L683.64 295.20 L684.70 295.34 L685.76 295.48 L686.82 295.61 L687.88 295.75 L688.94 295.89 L690.00 296.02 L691.06 296.15 L692.12 296.29 L693.18 296.42 L694.24 296.55 L695.30 296.68 L696.36 296.81 L697.42 296.94 L698.48 297.07 L699.54 297.19 L700.60 297.32 L701.66 297.45 L702.72 297.57 L703.78 297.70 L704.84 297.82 L705.90 297.94 L706.96 298.06 L708.02 298.18 L709.08 298.30 L710.14 298.42 L711.20 298.54 L712.26 298.66 L713.32 298.78 L714.38 298.89 L715.44 299.01 L716.50 299.12 L717.56 299.24 L718.62 299.35 L719.68 299.46 L720.74 299.57 L721.80 299.68 L722.86 299.80 L723.92 299.90 L724.98 300.01 L726.04 300.12 L727.10 300.23 L728.16 300.34 L729.22 300.44 L730.28 300.55 L731.34 300.65 L732.40 300.75 L733.46 300.86 L734.52 300.96 L735.58 301.06 L736.64 301.16 L737.70 301.26 L738.76 301.36 L739.82 301.46 L740.88 301.56 L741.94 301.66 L743.00 301.75 L744.06 301.85 L745.12 301.94 L746.18 302.04 L747.24 302.13 L748.30 302.23 L749.36 302.32 L750.42 302.41 L751.48 302.50 L752.54 302.60 L753.60 302.69 L754.66 302.78 L755.72 302.86 L756.78 302.95 L757.84 303.04 L758.90 303.13 L759.96 303.21 L761.02 303.30 L762.08 303.39 L763.14 303.47 L764.20 303.56 L765.26 303.64 L766.32 303.72 L767.38 303.80 L768.44 303.89 L769.50 303.97 L770.56 304.05 L771.62 304.13 L772.68 304.21 L773.74 304.29 L774.80 304.37 L775.86 304.44 L776.92 304.52 L777.98 304.60 L779.04 304.67 L780.10 304.75 L781.16 304.83 L782.22 304.90 L783.28 304.97 L784.34 305.05 L785.40 305.12 L786.46 305.19 L787.52 305.27 L788.58 305.34 L789.64 305.41 L790.70 305.48 L791.76 305.55 L792.82 305.62 L793.88 305.69 L794.94 305.76 L796.00 305.83 L797.06 305.89 L798.12 305.96 L799.18 306.03 L800.24 306.09 L801.30 306.16 L802.36 306.22 L803.42 306.29 L804.48 306.35 L805.54 306.42 L806.60 306.48" stroke="#00ff00"/>
<path d="M502.60 22.81 L503.02 27.55 L503.44 32.30 L503.87 37.05 L504.29 41.78 L504.71 46.50 L505.13 51.18 L505.56 55.84 L505.98 60.45 L506.40 65.03 L506.82 69.55 L507.24 74.02 L507.67 78.43 L508.09 82.79 L508.51 87.09 L508.93 91.32 L509.36 95.49 L509.78 99.59 L510.20 103.63 L510.62 107.60 L511.04 111.50 L511.47 115.33 L511.89 119.09 L512.31 122.79 L512.73 126.41 L513.16 129.97 L513.58 133.46 L514.00 136.89 L514.42 140.24 L514.84 143.53 L515.27 146.76 L515.69 149.92 L516.11 153.01 L516.53 156.04 L516.96 159.01 L517.38 161.92 L517.80 164.77 L518.22 167.56 L518.64 170.29 L519.07 172.97 L519.49 175.59 L519.91 178.15 L520.33 180.66 L520.76 183.11 L521.18 185.52 L521.60 187.87 L522.02 190.17 L522.44 192.42 L522.87 194.63 L523.29 196.78 L523.71 198.90 L524.13 200.96 L524.56 202.98 L524.98 204.96 L525.40 206.90 L525.82 208.79 L526.24 210.65 L526.67 212.46 L527.09 214.24 L527.51 215.98 L527.93 217.68 L528.36 219.34 L528.78 220.97 L529.20 222.56 L529.62 224.12 L530.04 225.65 L530.47 227.14 L530.89 228.61 L531.31 230.04 L531.73 231.44 L532.16 232.81 L532.58 234.15 L533.00 235.47 L533.42 236.76 L533.84 238.01 L534.27 239.25 L534.69 240.45 L535.11 241.64 L535.53 242.79 L535.96 243.93 L536.38 245.03 L536.80 246.12 L537.22 247.18 L537.64 248.22 L538.07 249.24 L538.49 250.24 L538.91 251.22 L539.33 252.18 L539.76 253.12 L540.18 254.03 L540.60 254.93 L541.02 255.81 L541.44 256.68 L541.87 257.52 L542.29 258.35 L542.71 259.16 L543.13 259.95 L543.56 260.73 L543.98 261.49 L544.40 262.24 L544.82 262.97 L545.24 263.69 L545.67 264.39 L546.09 265.08 L546.51 265.75 L546.93 266.41 L547.36 267.06 L547.78 267.70 L548.20 268.32 L548.62 268.93 L549.04 269.52 L549.47 270.11 L549.89 270.68 L550.31 271.24 L550.73 271.79 L551.16 272.33 L551.58 272.86 L552.00 273.38 L552.42 273.89 L552.84 274.39 L553.27 274.88 L554.33 276.06 L555.39 277.19 L556.45 278.26 L557.51 279.28 L558.57 280.26 L559.63 281.18 L560.69 282.07 L561.75 282.91 L562.81 283.71 L563.87 284.47 L564.93 285.20 L565.99 285.89 L567.05 286.55 L568.11 287.19 L569.17 287.79 L570.23 288.36 L571.29 288.91 L572.35 289.44 L573.41 289.94 L574.47 290.42 L575.53 290.87 L576.59 291.31 L577.65 291.73 L578.71 292.13 L579.77 292.51 L580.83 292.87 L581.89 293.22 L582.95 293.56 L584.01 293.88 L585.07 294.18 L586.13 294.48 L587.19 294.76 L588.25 295.03 L589.31 295.29 L590.37 295.54 L591.43 295.78 L592.49 296.01 L593.55 296.23 L594.61 296.44 L595.67 296.64 L596.73 296.84 L597.79 297.02 L598.85 297.21 L599.91 297.38 L600.97 297.55 L602.03 297.71 L603.09 297.86 L604.15 298.01 L605.21 298.16 L606.27 298.30 L607.33 298.43 L608.39 298.56 L609.45 298.69 L610.51 298.81 L611.57 298.93 L612.63 299.04 L613.69 299.16 L614.75 299.26 L615.81 299.37 L616.86 299.47 L617.92 299.57 L618.98 299.66 L620.04 299.75 L621.10 299.84 L622.16 299.93 L623.22 300.01 L624.28 300.10 L625.34 300.18 L626.40 300.26 L627.46 300.33 L628.52 300.41 L629.58 300.48 L630.64 300.55 L631.70 300.62 L632.76 300.69 L633.82 300.76 L634.88 300.82 L635.94 300.88 L637.00 300.95 L638.06 301.01 L639.12 301.07 L640.18 301.13 L641.24 301.19 L642.30 301.24 L643.36 301.30 L644.42 301.35 L645.48 301.41 L646.54 301.46 L647.60 301.51 L648.66 301.57 L649.72 301.62 L650.78 301.67 L651.84 301.72 L652.90 301.77 L653.96 301.82 L655.02 301.86 L656.08 301.91 L657.14 301.96 L658.20 302.00 L659.26 302.05 L660.32 302.09 L661.38 302.14 L662.44 302.18 L663.50 302.23 L664.56 302.27 L665.62 302.31 L666.68 302.36 L667.74 302.40 L668.80 302.44 L669.86 302.48 L670.92 302.53 L671.98 302.57 L673.04 302.61 L674.10 302.65 L675.16 302.69 L676.22 302.73 L677.28 302.77 L678.34 302.81 L679.40 302.85 L680.46 302.89 L681.52 302.93 L682.58 302.97 L683.64 303.00 L684.70 303.04 L685.76 303.08 L686.82 303.12 L687.88 303.16 L688.94 303.19 L690.00 303.23 L691.06 303.27 L692.12 303.31 L693.18 303.34 L694.24 303.38 L695.30 303.42 L696.36 303.46 L697.42 303.49 L698.48 303.53 L699.54 303.56 L700.60 303.60 L701.66 303.64 L702.72 303.67 L703.78 303.71 L704.84 303.75 L705.90 303.78 L706.96 303.82 L708.02 303.85 L709.08 303.89 L710.14 303.92 L711.20 303.96 L712.26 303.99 L713.32 304.03 L714.38 304.07 L715.44 304.10 L716.50 304.14 L717.56 304.17 L718.62 304.20 L719.68 304.24 L720.74 304.27 L721.80 304.31 L722.86 304.34 L723.92 304.38 L724.98 304.41 L726.04 304.45 L727.10 304.48 L728.16 304.52 L729.22 304.55 L730.28 304.58 L731.34 304.62 L732.40 304.65 L733.46 304.69 L734.52 304.72 L735.58 304.75 L736.64 304.79 L737.70 304.82 L738.76 304.85 L739.82 304.89 L740.88 304.92 L741.94 304.95 L743.00 304.99 L744.06 305.02 L745.12 305.05 L746.18 305.09 L747.24 305.12 L748.30 305.15 L749.36 305.19 L750.42 305.22 L751.48 305.25 L752.54 305.28 L753.60 305.32 L754.66 305.35 L755.72 305.38 L756.78 305.41 L757.84 305.45 L758.90 305.48 L759.96 305.51 L761.02 305.54 L762.08 305.58 L763.14 305.61 L764.20 305.64 L765.26 305.67 L766.32 305.70 L767.38 305.74 L768.44 305.77 L769.50 305.80 L770.56 305.83 L771.62 305.86 L772.68 305.89 L773.74 305.92 L774.80 305.96 L775.86 305.99 L776.92 306.02 L777.98 306.05 L779.04 306.08 L780.10 306.11 L781.16 306.14 L782.22 306.17 L783.28 306.20 L784.34 306.24 L785.40 306.27 L786.46 306.30 L787.52 306.33 L788.58 306.36 L789.64 306.39 L790.70 306.42 L791.76 306.45 L792.82 306.48 L793.88 306.51 L794.94 306.54 L796.00 306.57 L797.06 306.60 L798.12 306.63 L799.18 306.66 L800.24 306.69 L801.30 306.72 L802.36 306.75 L803.42 306.78 L804.48 306.81 L805.54 306.84 L806.60 306.87" stroke="#0000ff"/>
</g>
<rect x="502.60" y="22.50" width="304.00" height="304.00" fill="none" stroke="#000" stroke-width="1.15"/>
<path d="M502.60 326.50 v10.2 M553.27 326.50 v10.2 M603.93 326.50 v10.2 M654.60 326.50 v10.2 M705.27 326.50 v10.2 M755.93 326.50 v10.2 M806.60 326.50 v10.2 M527.93 326.50 v5.2 M578.60 326.50 v5.2 M629.27 326.50 v5.2 M679.93 326.50 v5.2 M730.60 326.50 v5.2 M781.27 326.50 v5.2 M502.60 326.50 h-10.2 M502.60 292.72 h-10.2 M502.60 258.94 h-10.2 M502.60 225.17 h-10.2 M502.60 191.39 h-10.2 M502.60 157.61 h-10.2 M502.60 123.83 h-10.2 M502.60 90.06 h-10.2 M502.60 56.28 h-10.2 M502.60 22.50 h-10.2 M502.60 309.61 h-5.2 M502.60 275.83 h-5.2 M502.60 242.06 h-5.2 M502.60 208.28 h-5.2 M502.60 174.50 h-5.2 M502.60 140.72 h-5.2 M502.60 106.94 h-5.2 M502.60 73.17 h-5.2 M502.60 39.39 h-5.2" stroke="#000" stroke-width="1.15" fill="none"/>
<text transform="translate(502.60 357.40) scale(0.97 1) rotate(0.03)" text-anchor="middle" class="tk">0</text>
<text transform="translate(553.27 357.40) scale(0.97 1) rotate(0.03)" text-anchor="middle" class="tk">1</text>
<text transform="translate(603.93 357.40) scale(0.97 1) rotate(0.03)" text-anchor="middle" class="tk">2</text>
<text transform="translate(654.60 357.40) scale(0.97 1) rotate(0.03)" text-anchor="middle" class="tk">3</text>
<text transform="translate(705.27 357.40) scale(0.97 1) rotate(0.03)" text-anchor="middle" class="tk">4</text>
<text transform="translate(755.93 357.40) scale(0.97 1) rotate(0.03)" text-anchor="middle" class="tk">5</text>
<text transform="translate(806.60 357.40) scale(0.97 1) rotate(0.03)" text-anchor="middle" class="tk">6</text>
<text transform="translate(483.30 332.10) scale(0.97 1) rotate(0.03)" text-anchor="end" class="tk">0.0</text>
<text transform="translate(483.30 298.32) scale(0.97 1) rotate(0.03)" text-anchor="end" class="tk">0.2</text>
<text transform="translate(483.30 264.54) scale(0.97 1) rotate(0.03)" text-anchor="end" class="tk">0.4</text>
<text transform="translate(483.30 230.77) scale(0.97 1) rotate(0.03)" text-anchor="end" class="tk">0.6</text>
<text transform="translate(483.30 196.99) scale(0.97 1) rotate(0.03)" text-anchor="end" class="tk">0.8</text>
<text transform="translate(483.30 163.21) scale(0.97 1) rotate(0.03)" text-anchor="end" class="tk">1.0</text>
<text transform="translate(483.30 129.43) scale(0.97 1) rotate(0.03)" text-anchor="end" class="tk">1.2</text>
<text transform="translate(483.30 95.66) scale(0.97 1) rotate(0.03)" text-anchor="end" class="tk">1.4</text>
<text transform="translate(483.30 61.88) scale(0.97 1) rotate(0.03)" text-anchor="end" class="tk">1.6</text>
<text transform="translate(483.30 28.10) scale(0.97 1) rotate(0.03)" text-anchor="end" class="tk">1.8</text>
<text transform="translate(435.84 17.45) rotate(0.03)" class="pl">b</text>
<g transform="translate(654.60 326.50)"><g transform="translate(-5.4 46.6)" fill="none" stroke="#000" stroke-linecap="round" stroke-linejoin="round"><path d="M2 2.7 C2.9 1.3 4 0.55 5 0.6 C6.2 0.7 6.9 1.5 7.9 1.8" stroke-width="1.0"/><path d="M10.4 0.45 L0.05 10.65" stroke-width="0.6"/><path d="M3.3 8.2 C4.1 9.3 5 10 6 10 C7.4 10 8.7 8.9 9.3 7.2" stroke-width="1.0"/><path d="M3 -3.3 C3.6 -4.4 4.3 -5 5 -5 C6 -5 6.8 -3.6 7.9 -3.5 C8.9 -3.5 9.7 -4 10.4 -4.7" stroke-width="0.65"/></g>
</g>
<g transform="translate(501.90 174.50)"><g transform="translate(-56.7 8.8) rotate(-90)" stroke-linecap="round" stroke-linejoin="round"><g transform="translate(4.5 -8.85) skewX(-14.9)"><path fill="#000" fill-rule="evenodd" stroke="none" d="M0 -8.85 C2.4 -8.85 4.2 -4.9 4.2 0 C4.2 4.9 2.4 8.85 0 8.85 C-2.4 8.85 -4.2 4.9 -4.2 0 C-4.2 -4.9 -2.4 -8.85 0 -8.85 Z M0 -8.3 C1.6 -8.3 2.9 -4.6 2.9 0 C2.9 4.6 1.6 8.3 0 8.3 C-1.6 8.3 -2.9 4.6 -2.9 0 C-2.9 -4.6 -1.6 -8.3 0 -8.3 Z"/><path d="M-3.3 0.1 L3.3 0.1" stroke="#000" stroke-width="0.6" fill="none"/></g><path d="M2.4 -21.2 C3.1 -22.5 3.9 -23.1 4.8 -22.8 C5.8 -22.4 6.5 -21.3 7.5 -21.3 C8.5 -21.3 9.4 -21.9 10 -22.8" fill="none" stroke="#000" stroke-width="0.75"/><circle cx="15.6" cy="-7.4" r="0.7" fill="#000"/><path d="M11.9 -2.4 C12.5 -3.9 13.5 -4.9 14.2 -4.7 C14.8 -4.5 14.6 -3.4 14.4 -2.6 L12.6 4.6 C12.3 6 11.4 6.8 10.5 6.6 C9.8 6.4 9.5 5.6 9.9 4.9" fill="none" stroke="#000" stroke-width="0.8"/></g>
</g>
</g>
<g>
<clipPath id="cpc"><rect x="87.10" y="417.30" width="305.20" height="304.40"/></clipPath>
<line x1="87.70" y1="630.30" x2="391.70" y2="630.30" stroke="#000" stroke-width="1" stroke-dasharray="8.2 6"/>
<g clip-path="url(#cpc)" fill="none" stroke-width="1.55" stroke-linejoin="round">
<path d="M87.70 629.41 L88.12 632.00 L88.54 634.51 L88.97 636.93 L89.39 639.28 L89.81 641.56 L90.23 643.76 L90.66 645.90 L91.08 647.97 L91.50 649.98 L91.92 651.94 L92.34 653.84 L92.77 655.68 L93.19 657.48 L93.61 659.22 L94.03 660.92 L94.46 662.57 L94.88 664.18 L95.30 665.75 L95.72 667.28 L96.14 668.76 L96.57 670.21 L96.99 671.62 L97.41 672.99 L97.83 674.33 L98.26 675.63 L98.68 676.90 L99.10 678.14 L99.52 679.35 L99.94 680.52 L100.37 681.67 L100.79 682.78 L101.21 683.87 L101.63 684.93 L102.06 685.96 L102.48 686.96 L102.90 687.94 L103.32 688.89 L103.74 689.82 L104.17 690.72 L104.59 691.60 L105.01 692.45 L105.43 693.28 L105.86 694.09 L106.28 694.87 L106.70 695.64 L107.12 696.38 L107.54 697.10 L107.97 697.80 L108.39 698.48 L108.81 699.14 L109.23 699.78 L109.66 700.40 L110.08 701.00 L110.50 701.59 L110.92 702.15 L111.34 702.70 L111.77 703.23 L112.19 703.75 L112.61 704.24 L113.03 704.72 L113.46 705.19 L113.88 705.64 L114.30 706.07 L114.72 706.49 L115.14 706.90 L115.57 707.28 L115.99 707.66 L116.41 708.02 L116.83 708.37 L117.26 708.70 L117.68 709.02 L118.10 709.33 L118.52 709.63 L118.94 709.91 L119.37 710.18 L119.79 710.44 L120.21 710.68 L120.63 710.92 L121.06 711.14 L121.48 711.36 L121.90 711.56 L122.32 711.75 L122.74 711.94 L123.17 712.11 L123.59 712.27 L124.01 712.42 L124.43 712.57 L124.86 712.70 L125.28 712.82 L125.70 712.94 L126.12 713.05 L126.54 713.15 L126.97 713.24 L127.39 713.32 L127.81 713.39 L128.23 713.46 L128.66 713.52 L129.08 713.57 L129.50 713.62 L129.92 713.65 L130.34 713.69 L130.77 713.71 L131.19 713.73 L131.61 713.74 L132.03 713.74 L132.46 713.74 L132.88 713.73 L133.30 713.72 L133.72 713.70 L134.14 713.68 L134.57 713.65 L134.99 713.61 L135.41 713.57 L135.83 713.52 L136.26 713.47 L136.68 713.42 L137.10 713.36 L137.52 713.29 L137.94 713.22 L138.37 713.15 L139.43 712.95 L140.49 712.72 L141.55 712.47 L142.61 712.19 L143.67 711.90 L144.73 711.59 L145.79 711.25 L146.85 710.90 L147.91 710.54 L148.97 710.16 L150.03 709.77 L151.09 709.37 L152.15 708.95 L153.21 708.52 L154.27 708.09 L155.33 707.64 L156.39 707.19 L157.45 706.73 L158.51 706.26 L159.57 705.79 L160.63 705.31 L161.69 704.82 L162.75 704.33 L163.81 703.84 L164.87 703.34 L165.93 702.84 L166.99 702.34 L168.05 701.84 L169.11 701.33 L170.17 700.82 L171.23 700.32 L172.29 699.81 L173.35 699.30 L174.41 698.79 L175.47 698.28 L176.53 697.77 L177.59 697.26 L178.65 696.75 L179.71 696.24 L180.77 695.74 L181.83 695.23 L182.89 694.73 L183.95 694.23 L185.01 693.73 L186.07 693.23 L187.13 692.73 L188.19 692.24 L189.25 691.74 L190.31 691.26 L191.37 690.77 L192.43 690.28 L193.49 689.80 L194.55 689.32 L195.61 688.84 L196.67 688.37 L197.73 687.90 L198.79 687.43 L199.85 686.97 L200.91 686.50 L201.96 686.04 L203.02 685.59 L204.08 685.13 L205.14 684.68 L206.20 684.24 L207.26 683.79 L208.32 683.35 L209.38 682.91 L210.44 682.48 L211.50 682.05 L212.56 681.62 L213.62 681.20 L214.68 680.77 L215.74 680.36 L216.80 679.94 L217.86 679.53 L218.92 679.12 L219.98 678.71 L221.04 678.31 L222.10 677.91 L223.16 677.52 L224.22 677.12 L225.28 676.73 L226.34 676.35 L227.40 675.96 L228.46 675.58 L229.52 675.20 L230.58 674.83 L231.64 674.46 L232.70 674.09 L233.76 673.72 L234.82 673.36 L235.88 673.00 L236.94 672.65 L238.00 672.29 L239.06 671.94 L240.12 671.59 L241.18 671.25 L242.24 670.91 L243.30 670.57 L244.36 670.23 L245.42 669.90 L246.48 669.57 L247.54 669.24 L248.60 668.91 L249.66 668.59 L250.72 668.27 L251.78 667.96 L252.84 667.64 L253.90 667.33 L254.96 667.02 L256.02 666.71 L257.08 666.41 L258.14 666.11 L259.20 665.81 L260.26 665.51 L261.32 665.22 L262.38 664.93 L263.44 664.64 L264.50 664.35 L265.56 664.07 L266.62 663.78 L267.68 663.50 L268.74 663.23 L269.80 662.95 L270.86 662.68 L271.92 662.41 L272.98 662.14 L274.04 661.87 L275.10 661.61 L276.16 661.35 L277.22 661.09 L278.28 660.83 L279.34 660.58 L280.40 660.32 L281.46 660.07 L282.52 659.82 L283.58 659.58 L284.64 659.33 L285.70 659.09 L286.76 658.85 L287.82 658.61 L288.88 658.37 L289.94 658.14 L291.00 657.90 L292.06 657.67 L293.12 657.44 L294.18 657.22 L295.24 656.99 L296.30 656.77 L297.36 656.55 L298.42 656.33 L299.48 656.11 L300.54 655.89 L301.60 655.68 L302.66 655.46 L303.72 655.25 L304.78 655.04 L305.84 654.84 L306.90 654.63 L307.96 654.43 L309.02 654.22 L310.08 654.02 L311.14 653.82 L312.20 653.62 L313.26 653.43 L314.32 653.23 L315.38 653.04 L316.44 652.85 L317.50 652.66 L318.56 652.47 L319.62 652.28 L320.68 652.10 L321.74 651.91 L322.80 651.73 L323.86 651.55 L324.92 651.37 L325.98 651.19 L327.04 651.01 L328.10 650.84 L329.16 650.66 L330.22 650.49 L331.28 650.32 L332.34 650.15 L333.40 649.98 L334.46 649.81 L335.52 649.65 L336.58 649.48 L337.64 649.32 L338.70 649.16 L339.76 649.00 L340.82 648.84 L341.88 648.68 L342.94 648.52 L344.00 648.37 L345.06 648.21 L346.12 648.06 L347.18 647.90 L348.24 647.75 L349.30 647.60 L350.36 647.45 L351.42 647.31 L352.48 647.16 L353.54 647.02 L354.60 646.87 L355.66 646.73 L356.72 646.59 L357.78 646.45 L358.84 646.31 L359.90 646.17 L360.96 646.03 L362.02 645.89 L363.08 645.76 L364.14 645.62 L365.20 645.49 L366.26 645.36 L367.32 645.23 L368.38 645.09 L369.44 644.97 L370.50 644.84 L371.56 644.71 L372.62 644.58 L373.68 644.46 L374.74 644.33 L375.80 644.21 L376.86 644.09 L377.92 643.96 L378.98 643.84 L380.04 643.72 L381.10 643.61 L382.16 643.49 L383.22 643.37 L384.28 643.25 L385.34 643.14 L386.40 643.02 L387.46 642.91 L388.52 642.80 L389.58 642.68 L390.64 642.57 L391.70 642.46" stroke="#000000"/>
<path d="M87.70 587.48 L88.12 590.58 L88.54 593.62 L88.97 596.60 L89.39 599.51 L89.81 602.36 L90.23 605.16 L90.66 607.89 L91.08 610.56 L91.50 613.18 L91.92 615.74 L92.34 618.24 L92.77 620.69 L93.19 623.08 L93.61 625.43 L94.03 627.72 L94.46 629.95 L94.88 632.14 L95.30 634.28 L95.72 636.37 L96.14 638.41 L96.57 640.41 L96.99 642.36 L97.41 644.26 L97.83 646.12 L98.26 647.94 L98.68 649.72 L99.10 651.45 L99.52 653.14 L99.94 654.80 L100.37 656.41 L100.79 657.98 L101.21 659.52 L101.63 661.02 L102.06 662.49 L102.48 663.91 L102.90 665.31 L103.32 666.67 L103.74 667.99 L104.17 669.29 L104.59 670.55 L105.01 671.78 L105.43 672.98 L105.86 674.15 L106.28 675.29 L106.70 676.40 L107.12 677.48 L107.54 678.53 L107.97 679.56 L108.39 680.56 L108.81 681.53 L109.23 682.48 L109.66 683.41 L110.08 684.30 L110.50 685.18 L110.92 686.03 L111.34 686.86 L111.77 687.66 L112.19 688.45 L112.61 689.21 L113.03 689.95 L113.46 690.67 L113.88 691.37 L114.30 692.05 L114.72 692.71 L115.14 693.35 L115.57 693.98 L115.99 694.58 L116.41 695.17 L116.83 695.74 L117.26 696.29 L117.68 696.83 L118.10 697.34 L118.52 697.85 L118.94 698.33 L119.37 698.81 L119.79 699.26 L120.21 699.71 L120.63 700.13 L121.06 700.55 L121.48 700.95 L121.90 701.33 L122.32 701.71 L122.74 702.07 L123.17 702.41 L123.59 702.75 L124.01 703.07 L124.43 703.38 L124.86 703.68 L125.28 703.97 L125.70 704.25 L126.12 704.52 L126.54 704.77 L126.97 705.02 L127.39 705.25 L127.81 705.48 L128.23 705.69 L128.66 705.90 L129.08 706.10 L129.50 706.28 L129.92 706.46 L130.34 706.63 L130.77 706.79 L131.19 706.95 L131.61 707.09 L132.03 707.23 L132.46 707.36 L132.88 707.48 L133.30 707.59 L133.72 707.70 L134.14 707.80 L134.57 707.89 L134.99 707.98 L135.41 708.06 L135.83 708.13 L136.26 708.20 L136.68 708.26 L137.10 708.31 L137.52 708.36 L137.94 708.41 L138.37 708.44 L139.43 708.51 L140.49 708.55 L141.55 708.55 L142.61 708.53 L143.67 708.48 L144.73 708.40 L145.79 708.30 L146.85 708.17 L147.91 708.03 L148.97 707.86 L150.03 707.67 L151.09 707.47 L152.15 707.25 L153.21 707.01 L154.27 706.76 L155.33 706.49 L156.39 706.21 L157.45 705.92 L158.51 705.62 L159.57 705.31 L160.63 704.99 L161.69 704.65 L162.75 704.31 L163.81 703.96 L164.87 703.61 L165.93 703.25 L166.99 702.88 L168.05 702.50 L169.11 702.12 L170.17 701.74 L171.23 701.35 L172.29 700.95 L173.35 700.56 L174.41 700.16 L175.47 699.75 L176.53 699.35 L177.59 698.94 L178.65 698.53 L179.71 698.12 L180.77 697.70 L181.83 697.29 L182.89 696.87 L183.95 696.45 L185.01 696.03 L186.07 695.61 L187.13 695.20 L188.19 694.78 L189.25 694.36 L190.31 693.94 L191.37 693.52 L192.43 693.10 L193.49 692.68 L194.55 692.27 L195.61 691.85 L196.67 691.44 L197.73 691.02 L198.79 690.61 L199.85 690.20 L200.91 689.79 L201.96 689.38 L203.02 688.97 L204.08 688.57 L205.14 688.16 L206.20 687.76 L207.26 687.36 L208.32 686.96 L209.38 686.56 L210.44 686.16 L211.50 685.77 L212.56 685.38 L213.62 684.99 L214.68 684.60 L215.74 684.21 L216.80 683.83 L217.86 683.45 L218.92 683.07 L219.98 682.69 L221.04 682.32 L222.10 681.94 L223.16 681.57 L224.22 681.20 L225.28 680.84 L226.34 680.47 L227.40 680.11 L228.46 679.75 L229.52 679.39 L230.58 679.04 L231.64 678.68 L232.70 678.33 L233.76 677.98 L234.82 677.64 L235.88 677.29 L236.94 676.95 L238.00 676.61 L239.06 676.27 L240.12 675.94 L241.18 675.61 L242.24 675.28 L243.30 674.95 L244.36 674.62 L245.42 674.30 L246.48 673.98 L247.54 673.66 L248.60 673.34 L249.66 673.03 L250.72 672.71 L251.78 672.40 L252.84 672.10 L253.90 671.79 L254.96 671.49 L256.02 671.18 L257.08 670.89 L258.14 670.59 L259.20 670.29 L260.26 670.00 L261.32 669.71 L262.38 669.42 L263.44 669.13 L264.50 668.85 L265.56 668.57 L266.62 668.29 L267.68 668.01 L268.74 667.73 L269.80 667.46 L270.86 667.19 L271.92 666.92 L272.98 666.65 L274.04 666.38 L275.10 666.12 L276.16 665.85 L277.22 665.59 L278.28 665.34 L279.34 665.08 L280.40 664.83 L281.46 664.57 L282.52 664.32 L283.58 664.07 L284.64 663.83 L285.70 663.58 L286.76 663.34 L287.82 663.10 L288.88 662.86 L289.94 662.62 L291.00 662.38 L292.06 662.15 L293.12 661.92 L294.18 661.69 L295.24 661.46 L296.30 661.23 L297.36 661.00 L298.42 660.78 L299.48 660.56 L300.54 660.34 L301.60 660.12 L302.66 659.90 L303.72 659.69 L304.78 659.47 L305.84 659.26 L306.90 659.05 L307.96 658.84 L309.02 658.63 L310.08 658.43 L311.14 658.23 L312.20 658.02 L313.26 657.82 L314.32 657.62 L315.38 657.42 L316.44 657.23 L317.50 657.03 L318.56 656.84 L319.62 656.65 L320.68 656.46 L321.74 656.27 L322.80 656.08 L323.86 655.89 L324.92 655.71 L325.98 655.53 L327.04 655.34 L328.10 655.16 L329.16 654.98 L330.22 654.81 L331.28 654.63 L332.34 654.46 L333.40 654.28 L334.46 654.11 L335.52 653.94 L336.58 653.77 L337.64 653.60 L338.70 653.43 L339.76 653.27 L340.82 653.10 L341.88 652.94 L342.94 652.78 L344.00 652.62 L345.06 652.46 L346.12 652.30 L347.18 652.14 L348.24 651.99 L349.30 651.83 L350.36 651.68 L351.42 651.52 L352.48 651.37 L353.54 651.22 L354.60 651.07 L355.66 650.93 L356.72 650.78 L357.78 650.63 L358.84 650.49 L359.90 650.35 L360.96 650.21 L362.02 650.06 L363.08 649.92 L364.14 649.79 L365.20 649.65 L366.26 649.51 L367.32 649.38 L368.38 649.24 L369.44 649.11 L370.50 648.97 L371.56 648.84 L372.62 648.71 L373.68 648.58 L374.74 648.45 L375.80 648.33 L376.86 648.20 L377.92 648.07 L378.98 647.95 L380.04 647.83 L381.10 647.70 L382.16 647.58 L383.22 647.46 L384.28 647.34 L385.34 647.22 L386.40 647.10 L387.46 646.99 L388.52 646.87 L389.58 646.76 L390.64 646.64 L391.70 646.53" stroke="#ff0000"/>
<path d="M87.70 414.00 L88.12 418.83 L88.54 423.59 L88.97 428.27 L89.39 432.87 L89.81 437.40 L90.23 441.84 L90.66 446.22 L91.08 450.51 L91.50 454.73 L91.92 458.87 L92.34 462.94 L92.77 466.93 L93.19 470.84 L93.61 474.68 L94.03 478.45 L94.46 482.15 L94.88 485.77 L95.30 489.32 L95.72 492.81 L96.14 496.22 L96.57 499.57 L96.99 502.85 L97.41 506.06 L97.83 509.21 L98.26 512.30 L98.68 515.32 L99.10 518.28 L99.52 521.19 L99.94 524.03 L100.37 526.82 L100.79 529.54 L101.21 532.22 L101.63 534.83 L102.06 537.40 L102.48 539.91 L102.90 542.37 L103.32 544.78 L103.74 547.14 L104.17 549.45 L104.59 551.71 L105.01 553.93 L105.43 556.10 L105.86 558.22 L106.28 560.30 L106.70 562.34 L107.12 564.34 L107.54 566.29 L107.97 568.21 L108.39 570.08 L108.81 571.92 L109.23 573.72 L109.66 575.48 L110.08 577.20 L110.50 578.89 L110.92 580.55 L111.34 582.17 L111.77 583.75 L112.19 585.31 L112.61 586.83 L113.03 588.32 L113.46 589.78 L113.88 591.21 L114.30 592.61 L114.72 593.98 L115.14 595.33 L115.57 596.64 L115.99 597.93 L116.41 599.19 L116.83 600.43 L117.26 601.64 L117.68 602.83 L118.10 603.99 L118.52 605.13 L118.94 606.24 L119.37 607.34 L119.79 608.41 L120.21 609.45 L120.63 610.48 L121.06 611.48 L121.48 612.47 L121.90 613.43 L122.32 614.38 L122.74 615.30 L123.17 616.21 L123.59 617.10 L124.01 617.97 L124.43 618.82 L124.86 619.66 L125.28 620.47 L125.70 621.28 L126.12 622.06 L126.54 622.83 L126.97 623.58 L127.39 624.32 L127.81 625.04 L128.23 625.75 L128.66 626.44 L129.08 627.12 L129.50 627.79 L129.92 628.44 L130.34 629.08 L130.77 629.70 L131.19 630.32 L131.61 630.92 L132.03 631.51 L132.46 632.08 L132.88 632.65 L133.30 633.20 L133.72 633.74 L134.14 634.27 L134.57 634.79 L134.99 635.30 L135.41 635.80 L135.83 636.29 L136.26 636.77 L136.68 637.23 L137.10 637.69 L137.52 638.14 L137.94 638.58 L138.37 639.02 L139.43 640.06 L140.49 641.05 L141.55 641.99 L142.61 642.89 L143.67 643.73 L144.73 644.54 L145.79 645.30 L146.85 646.03 L147.91 646.71 L148.97 647.36 L150.03 647.98 L151.09 648.57 L152.15 649.12 L153.21 649.65 L154.27 650.15 L155.33 650.62 L156.39 651.07 L157.45 651.49 L158.51 651.89 L159.57 652.27 L160.63 652.63 L161.69 652.97 L162.75 653.29 L163.81 653.59 L164.87 653.87 L165.93 654.14 L166.99 654.40 L168.05 654.64 L169.11 654.86 L170.17 655.08 L171.23 655.28 L172.29 655.47 L173.35 655.64 L174.41 655.81 L175.47 655.97 L176.53 656.11 L177.59 656.25 L178.65 656.38 L179.71 656.50 L180.77 656.61 L181.83 656.72 L182.89 656.81 L183.95 656.90 L185.01 656.99 L186.07 657.07 L187.13 657.14 L188.19 657.20 L189.25 657.26 L190.31 657.32 L191.37 657.37 L192.43 657.42 L193.49 657.46 L194.55 657.50 L195.61 657.53 L196.67 657.56 L197.73 657.59 L198.79 657.61 L199.85 657.63 L200.91 657.65 L201.96 657.66 L203.02 657.67 L204.08 657.68 L205.14 657.69 L206.20 657.69 L207.26 657.69 L208.32 657.69 L209.38 657.69 L210.44 657.69 L211.50 657.68 L212.56 657.67 L213.62 657.66 L214.68 657.65 L215.74 657.64 L216.80 657.63 L217.86 657.61 L218.92 657.60 L219.98 657.58 L221.04 657.56 L222.10 657.54 L223.16 657.52 L224.22 657.50 L225.28 657.48 L226.34 657.46 L227.40 657.44 L228.46 657.41 L229.52 657.39 L230.58 657.36 L231.64 657.34 L232.70 657.31 L233.76 657.29 L234.82 657.26 L235.88 657.23 L236.94 657.21 L238.00 657.18 L239.06 657.15 L240.12 657.12 L241.18 657.09 L242.24 657.06 L243.30 657.03 L244.36 657.00 L245.42 656.97 L246.48 656.94 L247.54 656.91 L248.60 656.88 L249.66 656.85 L250.72 656.82 L251.78 656.79 L252.84 656.76 L253.90 656.73 L254.96 656.70 L256.02 656.67 L257.08 656.64 L258.14 656.61 L259.20 656.58 L260.26 656.55 L261.32 656.52 L262.38 656.49 L263.44 656.45 L264.50 656.42 L265.56 656.39 L266.62 656.36 L267.68 656.33 L268.74 656.30 L269.80 656.27 L270.86 656.24 L271.92 656.21 L272.98 656.18 L274.04 656.15 L275.10 656.12 L276.16 656.09 L277.22 656.06 L278.28 656.03 L279.34 656.00 L280.40 655.97 L281.46 655.94 L282.52 655.91 L283.58 655.88 L284.64 655.85 L285.70 655.82 L286.76 655.79 L287.82 655.76 L288.88 655.73 L289.94 655.70 L291.00 655.67 L292.06 655.64 L293.12 655.61 L294.18 655.58 L295.24 655.55 L296.30 655.52 L297.36 655.49 L298.42 655.46 L299.48 655.43 L300.54 655.40 L301.60 655.38 L302.66 655.35 L303.72 655.32 L304.78 655.29 L305.84 655.26 L306.90 655.23 L307.96 655.20 L309.02 655.17 L310.08 655.14 L311.14 655.11 L312.20 655.09 L313.26 655.06 L314.32 655.03 L315.38 655.00 L316.44 654.97 L317.50 654.94 L318.56 654.91 L319.62 654.88 L320.68 654.86 L321.74 654.83 L322.80 654.80 L323.86 654.77 L324.92 654.74 L325.98 654.71 L327.04 654.68 L328.10 654.65 L329.16 654.63 L330.22 654.60 L331.28 654.57 L332.34 654.54 L333.40 654.51 L334.46 654.48 L335.52 654.45 L336.58 654.42 L337.64 654.39 L338.70 654.37 L339.76 654.34 L340.82 654.31 L341.88 654.28 L342.94 654.25 L344.00 654.22 L345.06 654.19 L346.12 654.16 L347.18 654.13 L348.24 654.10 L349.30 654.07 L350.36 654.04 L351.42 654.01 L352.48 653.98 L353.54 653.95 L354.60 653.93 L355.66 653.90 L356.72 653.87 L357.78 653.84 L358.84 653.81 L359.90 653.78 L360.96 653.75 L362.02 653.71 L363.08 653.68 L364.14 653.65 L365.20 653.62 L366.26 653.59 L367.32 653.56 L368.38 653.53 L369.44 653.50 L370.50 653.47 L371.56 653.44 L372.62 653.41 L373.68 653.38 L374.74 653.35 L375.80 653.31 L376.86 653.28 L377.92 653.25 L378.98 653.22 L380.04 653.19 L381.10 653.16 L382.16 653.12 L383.22 653.09 L384.28 653.06 L385.34 653.03 L386.40 653.00 L387.46 652.96 L388.52 652.93 L389.58 652.90 L390.64 652.87 L391.70 652.83" stroke="#00ff00"/>
<path d="M87.70 514.50 L88.12 518.02 L88.54 521.52 L88.97 525.01 L89.39 528.48 L89.81 531.93 L90.23 535.35 L90.66 538.73 L91.08 542.07 L91.50 545.37 L91.92 548.63 L92.34 551.85 L92.77 555.01 L93.19 558.13 L93.61 561.20 L94.03 564.21 L94.46 567.18 L94.88 570.09 L95.30 572.94 L95.72 575.75 L96.14 578.50 L96.57 581.19 L96.99 583.84 L97.41 586.43 L97.83 588.96 L98.26 591.45 L98.68 593.88 L99.10 596.26 L99.52 598.59 L99.94 600.87 L100.37 603.10 L100.79 605.28 L101.21 607.42 L101.63 609.50 L102.06 611.54 L102.48 613.54 L102.90 615.48 L103.32 617.39 L103.74 619.25 L104.17 621.07 L104.59 622.85 L105.01 624.59 L105.43 626.28 L105.86 627.94 L106.28 629.56 L106.70 631.14 L107.12 632.69 L107.54 634.20 L107.97 635.67 L108.39 637.11 L108.81 638.52 L109.23 639.89 L109.66 641.23 L110.08 642.54 L110.50 643.82 L110.92 645.07 L111.34 646.29 L111.77 647.48 L112.19 648.65 L112.61 649.78 L113.03 650.89 L113.46 651.98 L113.88 653.04 L114.30 654.07 L114.72 655.08 L115.14 656.06 L115.57 657.02 L115.99 657.96 L116.41 658.88 L116.83 659.77 L117.26 660.65 L117.68 661.50 L118.10 662.33 L118.52 663.14 L118.94 663.94 L119.37 664.71 L119.79 665.47 L120.21 666.21 L120.63 666.93 L121.06 667.63 L121.48 668.32 L121.90 668.99 L122.32 669.64 L122.74 670.28 L123.17 670.90 L123.59 671.51 L124.01 672.10 L124.43 672.68 L124.86 673.24 L125.28 673.79 L125.70 674.33 L126.12 674.85 L126.54 675.37 L126.97 675.86 L127.39 676.35 L127.81 676.82 L128.23 677.29 L128.66 677.74 L129.08 678.18 L129.50 678.61 L129.92 679.02 L130.34 679.43 L130.77 679.83 L131.19 680.22 L131.61 680.59 L132.03 680.96 L132.46 681.32 L132.88 681.67 L133.30 682.01 L133.72 682.34 L134.14 682.66 L134.57 682.97 L134.99 683.28 L135.41 683.57 L135.83 683.86 L136.26 684.15 L136.68 684.42 L137.10 684.68 L137.52 684.94 L137.94 685.20 L138.37 685.44 L139.43 686.02 L140.49 686.57 L141.55 687.07 L142.61 687.54 L143.67 687.97 L144.73 688.37 L145.79 688.73 L146.85 689.07 L147.91 689.38 L148.97 689.66 L150.03 689.91 L151.09 690.14 L152.15 690.35 L153.21 690.53 L154.27 690.69 L155.33 690.84 L156.39 690.96 L157.45 691.07 L158.51 691.15 L159.57 691.23 L160.63 691.28 L161.69 691.32 L162.75 691.35 L163.81 691.36 L164.87 691.36 L165.93 691.35 L166.99 691.32 L168.05 691.29 L169.11 691.24 L170.17 691.19 L171.23 691.12 L172.29 691.05 L173.35 690.97 L174.41 690.87 L175.47 690.77 L176.53 690.67 L177.59 690.55 L178.65 690.43 L179.71 690.31 L180.77 690.18 L181.83 690.04 L182.89 689.89 L183.95 689.74 L185.01 689.59 L186.07 689.43 L187.13 689.27 L188.19 689.10 L189.25 688.93 L190.31 688.76 L191.37 688.58 L192.43 688.40 L193.49 688.21 L194.55 688.03 L195.61 687.83 L196.67 687.64 L197.73 687.45 L198.79 687.25 L199.85 687.05 L200.91 686.85 L201.96 686.64 L203.02 686.44 L204.08 686.23 L205.14 686.02 L206.20 685.81 L207.26 685.60 L208.32 685.39 L209.38 685.17 L210.44 684.96 L211.50 684.74 L212.56 684.53 L213.62 684.31 L214.68 684.09 L215.74 683.87 L216.80 683.65 L217.86 683.43 L218.92 683.21 L219.98 682.99 L221.04 682.77 L222.10 682.55 L223.16 682.33 L224.22 682.11 L225.28 681.89 L226.34 681.67 L227.40 681.45 L228.46 681.23 L229.52 681.01 L230.58 680.79 L231.64 680.57 L232.70 680.35 L233.76 680.13 L234.82 679.91 L235.88 679.69 L236.94 679.47 L238.00 679.25 L239.06 679.03 L240.12 678.82 L241.18 678.60 L242.24 678.38 L243.30 678.17 L244.36 677.95 L245.42 677.74 L246.48 677.53 L247.54 677.31 L248.60 677.10 L249.66 676.89 L250.72 676.68 L251.78 676.47 L252.84 676.26 L253.90 676.05 L254.96 675.85 L256.02 675.64 L257.08 675.43 L258.14 675.23 L259.20 675.03 L260.26 674.82 L261.32 674.62 L262.38 674.42 L263.44 674.22 L264.50 674.02 L265.56 673.82 L266.62 673.62 L267.68 673.43 L268.74 673.23 L269.80 673.04 L270.86 672.84 L271.92 672.65 L272.98 672.46 L274.04 672.27 L275.10 672.08 L276.16 671.89 L277.22 671.70 L278.28 671.52 L279.34 671.33 L280.40 671.15 L281.46 670.96 L282.52 670.78 L283.58 670.60 L284.64 670.42 L285.70 670.24 L286.76 670.06 L287.82 669.88 L288.88 669.71 L289.94 669.53 L291.00 669.36 L292.06 669.19 L293.12 669.01 L294.18 668.84 L295.24 668.67 L296.30 668.50 L297.36 668.34 L298.42 668.17 L299.48 668.00 L300.54 667.84 L301.60 667.68 L302.66 667.51 L303.72 667.35 L304.78 667.19 L305.84 667.03 L306.90 666.87 L307.96 666.72 L309.02 666.56 L310.08 666.41 L311.14 666.25 L312.20 666.10 L313.26 665.95 L314.32 665.80 L315.38 665.65 L316.44 665.50 L317.50 665.35 L318.56 665.20 L319.62 665.06 L320.68 664.91 L321.74 664.77 L322.80 664.63 L323.86 664.48 L324.92 664.34 L325.98 664.20 L327.04 664.07 L328.10 663.93 L329.16 663.79 L330.22 663.66 L331.28 663.52 L332.34 663.39 L333.40 663.25 L334.46 663.12 L335.52 662.99 L336.58 662.86 L337.64 662.73 L338.70 662.61 L339.76 662.48 L340.82 662.35 L341.88 662.23 L342.94 662.10 L344.00 661.98 L345.06 661.86 L346.12 661.74 L347.18 661.62 L348.24 661.50 L349.30 661.38 L350.36 661.26 L351.42 661.14 L352.48 661.03 L353.54 660.91 L354.60 660.80 L355.66 660.69 L356.72 660.58 L357.78 660.46 L358.84 660.35 L359.90 660.24 L360.96 660.14 L362.02 660.03 L363.08 659.92 L364.14 659.82 L365.20 659.71 L366.26 659.61 L367.32 659.50 L368.38 659.40 L369.44 659.30 L370.50 659.20 L371.56 659.10 L372.62 659.00 L373.68 658.90 L374.74 658.80 L375.80 658.71 L376.86 658.61 L377.92 658.52 L378.98 658.42 L380.04 658.33 L381.10 658.23 L382.16 658.14 L383.22 658.05 L384.28 657.96 L385.34 657.87 L386.40 657.78 L387.46 657.69 L388.52 657.61 L389.58 657.52 L390.64 657.44 L391.70 657.35" stroke="#0000ff"/>
</g>
<rect x="87.70" y="417.50" width="304.00" height="304.00" fill="none" stroke="#000" stroke-width="1.15"/>
<path d="M87.70 721.50 v10.2 M138.37 721.50 v10.2 M189.03 721.50 v10.2 M239.70 721.50 v10.2 M290.37 721.50 v10.2 M341.03 721.50 v10.2 M391.70 721.50 v10.2 M113.03 721.50 v5.2 M163.70 721.50 v5.2 M214.37 721.50 v5.2 M265.03 721.50 v5.2 M315.70 721.50 v5.2 M366.37 721.50 v5.2 M87.70 691.10 h-10.2 M87.70 630.30 h-10.2 M87.70 569.50 h-10.2 M87.70 508.70 h-10.2 M87.70 447.90 h-10.2 M87.70 660.70 h-5.2 M87.70 599.90 h-5.2 M87.70 539.10 h-5.2 M87.70 478.30 h-5.2" stroke="#000" stroke-width="1.15" fill="none"/>
<text transform="translate(87.70 752.40) scale(0.97 1) rotate(0.03)" text-anchor="middle" class="tk">0</text>
<text transform="translate(138.37 752.40) scale(0.97 1) rotate(0.03)" text-anchor="middle" class="tk">1</text>
<text transform="translate(189.03 752.40) scale(0.97 1) rotate(0.03)" text-anchor="middle" class="tk">2</text>
<text transform="translate(239.70 752.40) scale(0.97 1) rotate(0.03)" text-anchor="middle" class="tk">3</text>
<text transform="translate(290.37 752.40) scale(0.97 1) rotate(0.03)" text-anchor="middle" class="tk">4</text>
<text transform="translate(341.03 752.40) scale(0.97 1) rotate(0.03)" text-anchor="middle" class="tk">5</text>
<text transform="translate(391.70 752.40) scale(0.97 1) rotate(0.03)" text-anchor="middle" class="tk">6</text>
<text transform="translate(68.40 696.70) scale(0.97 1) rotate(0.03)" text-anchor="end" class="tk">-0.5</text>
<text transform="translate(68.40 635.90) scale(0.97 1) rotate(0.03)" text-anchor="end" class="tk">0.0</text>
<text transform="translate(68.40 575.10) scale(0.97 1) rotate(0.03)" text-anchor="end" class="tk">0.5</text>
<text transform="translate(68.40 514.30) scale(0.97 1) rotate(0.03)" text-anchor="end" class="tk">1.0</text>
<text transform="translate(68.40 453.50) scale(0.97 1) rotate(0.03)" text-anchor="end" class="tk">1.5</text>
<text transform="translate(21.70 411.80) rotate(0.03)" class="pl">c</text>
<g transform="translate(239.70 721.50)"><g transform="translate(-5.4 46.6)" fill="none" stroke="#000" stroke-linecap="round" stroke-linejoin="round"><path d="M2 2.7 C2.9 1.3 4 0.55 5 0.6 C6.2 0.7 6.9 1.5 7.9 1.8" stroke-width="1.0"/><path d="M10.4 0.45 L0.05 10.65" stroke-width="0.6"/><path d="M3.3 8.2 C4.1 9.3 5 10 6 10 C7.4 10 8.7 8.9 9.3 7.2" stroke-width="1.0"/><path d="M3 -3.3 C3.6 -4.4 4.3 -5 5 -5 C6 -5 6.8 -3.6 7.9 -3.5 C8.9 -3.5 9.7 -4 10.4 -4.7" stroke-width="0.65"/></g>
</g>
<g transform="translate(82.70 569.50)"><g transform="translate(-56.7 8.8) rotate(-90)" stroke-linecap="round" stroke-linejoin="round"><g transform="translate(4.5 -8.85) skewX(-14.9)"><path fill="#000" fill-rule="evenodd" stroke="none" d="M0 -8.85 C2.4 -8.85 4.2 -4.9 4.2 0 C4.2 4.9 2.4 8.85 0 8.85 C-2.4 8.85 -4.2 4.9 -4.2 0 C-4.2 -4.9 -2.4 -8.85 0 -8.85 Z M0 -8.3 C1.6 -8.3 2.9 -4.6 2.9 0 C2.9 4.6 1.6 8.3 0 8.3 C-1.6 8.3 -2.9 4.6 -2.9 0 C-2.9 -4.6 -1.6 -8.3 0 -8.3 Z"/><path d="M-3.3 0.1 L3.3 0.1" stroke="#000" stroke-width="0.6" fill="none"/></g><path d="M2.4 -21.2 C3.1 -22.5 3.9 -23.1 4.8 -22.8 C5.8 -22.4 6.5 -21.3 7.5 -21.3 C8.5 -21.3 9.4 -21.9 10 -22.8" fill="none" stroke="#000" stroke-width="0.75"/><circle cx="15.6" cy="-7.4" r="0.7" fill="#000"/><path d="M11.9 -2.4 C12.5 -3.9 13.5 -4.9 14.2 -4.7 C14.8 -4.5 14.6 -3.4 14.4 -2.6 L12.6 4.6 C12.3 6 11.4 6.8 10.5 6.6 C9.8 6.4 9.5 5.6 9.9 4.9" fill="none" stroke="#000" stroke-width="0.8"/></g>
</g>
</g>
<g>
<clipPath id="cpd"><rect x="502.00" y="417.30" width="305.20" height="304.40"/></clipPath>
<g clip-path="url(#cpd)" fill="none" stroke-width="1.55" stroke-linejoin="round">
<path d="M502.60 417.50 L503.02 425.24 L503.44 432.79 L503.87 440.16 L504.29 447.36 L504.71 454.37 L505.13 461.21 L505.56 467.88 L505.98 474.39 L506.40 480.72 L506.82 486.90 L507.24 492.92 L507.67 498.79 L508.09 504.51 L508.51 510.07 L508.93 515.50 L509.36 520.78 L509.78 525.92 L510.20 530.92 L510.62 535.80 L511.04 540.54 L511.47 545.16 L511.89 549.65 L512.31 554.02 L512.73 558.28 L513.16 562.41 L513.58 566.44 L514.00 570.35 L514.42 574.16 L514.84 577.86 L515.27 581.46 L515.69 584.95 L516.11 588.35 L516.53 591.65 L516.96 594.86 L517.38 597.98 L517.80 601.00 L518.22 603.94 L518.64 606.80 L519.07 609.57 L519.49 612.26 L519.91 614.87 L520.33 617.40 L520.76 619.85 L521.18 622.24 L521.60 624.55 L522.02 626.79 L522.44 628.96 L522.87 631.06 L523.29 633.09 L523.71 635.07 L524.13 636.98 L524.56 638.82 L524.98 640.61 L525.40 642.34 L525.82 644.01 L526.24 645.63 L526.67 647.19 L527.09 648.70 L527.51 650.16 L527.93 651.56 L528.36 652.92 L528.78 654.23 L529.20 655.49 L529.62 656.70 L530.04 657.87 L530.47 658.99 L530.89 660.07 L531.31 661.11 L531.73 662.11 L532.16 663.07 L532.58 663.99 L533.00 664.87 L533.42 665.71 L533.84 666.51 L534.27 667.28 L534.69 668.02 L535.11 668.72 L535.53 669.38 L535.96 670.02 L536.38 670.62 L536.80 671.19 L537.22 671.73 L537.64 672.24 L538.07 672.72 L538.49 673.17 L538.91 673.60 L539.33 673.99 L539.76 674.36 L540.18 674.71 L540.60 675.03 L541.02 675.32 L541.44 675.59 L541.87 675.84 L542.29 676.06 L542.71 676.26 L543.13 676.44 L543.56 676.60 L543.98 676.74 L544.40 676.85 L544.82 676.95 L545.24 677.03 L545.67 677.08 L546.09 677.12 L546.51 677.14 L546.93 677.14 L547.36 677.13 L547.78 677.09 L548.20 677.05 L548.62 676.98 L549.04 676.90 L549.47 676.80 L549.89 676.69 L550.31 676.56 L550.73 676.42 L551.16 676.27 L551.58 676.10 L552.00 675.91 L552.42 675.72 L552.84 675.51 L553.27 675.29 L554.33 674.68 L555.39 674.00 L556.45 673.25 L557.51 672.44 L558.57 671.57 L559.63 670.64 L560.69 669.66 L561.75 668.63 L562.81 667.55 L563.87 666.43 L564.93 665.27 L565.99 664.07 L567.05 662.83 L568.11 661.57 L569.17 660.27 L570.23 658.94 L571.29 657.59 L572.35 656.22 L573.41 654.82 L574.47 653.40 L575.53 651.96 L576.59 650.51 L577.65 649.04 L578.71 647.56 L579.77 646.06 L580.83 644.55 L581.89 643.03 L582.95 641.50 L584.01 639.97 L585.07 638.43 L586.13 636.88 L587.19 635.32 L588.25 633.77 L589.31 632.21 L590.37 630.64 L591.43 629.08 L592.49 627.51 L593.55 625.95 L594.61 624.38 L595.67 622.82 L596.73 621.25 L597.79 619.69 L598.85 618.14 L599.91 616.58 L600.97 615.03 L602.03 613.49 L603.09 611.94 L604.15 610.41 L605.21 608.88 L606.27 607.35 L607.33 605.83 L608.39 604.32 L609.45 602.81 L610.51 601.31 L611.57 599.82 L612.63 598.34 L613.69 596.86 L614.75 595.39 L615.81 593.93 L616.86 592.47 L617.92 591.03 L618.98 589.59 L620.04 588.17 L621.10 586.75 L622.16 585.34 L623.22 583.94 L624.28 582.55 L625.34 581.16 L626.40 579.79 L627.46 578.43 L628.52 577.07 L629.58 575.73 L630.64 574.39 L631.70 573.07 L632.76 571.75 L633.82 570.45 L634.88 569.15 L635.94 567.86 L637.00 566.59 L638.06 565.32 L639.12 564.06 L640.18 562.82 L641.24 561.58 L642.30 560.35 L643.36 559.13 L644.42 557.93 L645.48 556.73 L646.54 555.54 L647.60 554.36 L648.66 553.19 L649.72 552.03 L650.78 550.88 L651.84 549.74 L652.90 548.61 L653.96 547.49 L655.02 546.38 L656.08 545.28 L657.14 544.18 L658.20 543.10 L659.26 542.03 L660.32 540.96 L661.38 539.91 L662.44 538.86 L663.50 537.82 L664.56 536.79 L665.62 535.77 L666.68 534.76 L667.74 533.76 L668.80 532.77 L669.86 531.78 L670.92 530.81 L671.98 529.84 L673.04 528.88 L674.10 527.93 L675.16 526.99 L676.22 526.06 L677.28 525.13 L678.34 524.22 L679.40 523.31 L680.46 522.41 L681.52 521.51 L682.58 520.63 L683.64 519.75 L684.70 518.88 L685.76 518.02 L686.82 517.17 L687.88 516.32 L688.94 515.48 L690.00 514.65 L691.06 513.83 L692.12 513.01 L693.18 512.20 L694.24 511.40 L695.30 510.61 L696.36 509.82 L697.42 509.04 L698.48 508.26 L699.54 507.50 L700.60 506.74 L701.66 505.98 L702.72 505.24 L703.78 504.50 L704.84 503.76 L705.90 503.03 L706.96 502.31 L708.02 501.60 L709.08 500.89 L710.14 500.19 L711.20 499.49 L712.26 498.80 L713.32 498.12 L714.38 497.44 L715.44 496.77 L716.50 496.10 L717.56 495.44 L718.62 494.79 L719.68 494.14 L720.74 493.50 L721.80 492.86 L722.86 492.23 L723.92 491.60 L724.98 490.98 L726.04 490.36 L727.10 489.75 L728.16 489.15 L729.22 488.54 L730.28 487.95 L731.34 487.36 L732.40 486.77 L733.46 486.19 L734.52 485.62 L735.58 485.05 L736.64 484.48 L737.70 483.92 L738.76 483.36 L739.82 482.81 L740.88 482.26 L741.94 481.72 L743.00 481.18 L744.06 480.65 L745.12 480.12 L746.18 479.59 L747.24 479.07 L748.30 478.55 L749.36 478.04 L750.42 477.53 L751.48 477.03 L752.54 476.53 L753.60 476.03 L754.66 475.54 L755.72 475.05 L756.78 474.56 L757.84 474.08 L758.90 473.61 L759.96 473.13 L761.02 472.66 L762.08 472.20 L763.14 471.73 L764.20 471.27 L765.26 470.82 L766.32 470.37 L767.38 469.92 L768.44 469.47 L769.50 469.03 L770.56 468.59 L771.62 468.16 L772.68 467.73 L773.74 467.30 L774.80 466.87 L775.86 466.45 L776.92 466.03 L777.98 465.62 L779.04 465.20 L780.10 464.79 L781.16 464.39 L782.22 463.98 L783.28 463.58 L784.34 463.18 L785.40 462.79 L786.46 462.39 L787.52 462.00 L788.58 461.62 L789.64 461.23 L790.70 460.85 L791.76 460.47 L792.82 460.10 L793.88 459.72 L794.94 459.35 L796.00 458.98 L797.06 458.62 L798.12 458.25 L799.18 457.89 L800.24 457.53 L801.30 457.18 L802.36 456.82 L803.42 456.47 L804.48 456.12 L805.54 455.78 L806.60 455.43" stroke="#000000"/>
<path d="M502.60 471.74 L503.02 478.11 L503.44 484.25 L503.87 490.18 L504.29 495.90 L504.71 501.42 L505.13 506.75 L505.56 511.91 L505.98 516.90 L506.40 521.73 L506.82 526.40 L507.24 530.93 L507.67 535.31 L508.09 539.56 L508.51 543.68 L508.93 547.68 L509.36 551.56 L509.78 555.32 L510.20 558.97 L510.62 562.52 L511.04 565.96 L511.47 569.30 L511.89 572.55 L512.31 575.70 L512.73 578.77 L513.16 581.75 L513.58 584.64 L514.00 587.45 L514.42 590.18 L514.84 592.83 L515.27 595.41 L515.69 597.92 L516.11 600.35 L516.53 602.72 L516.96 605.01 L517.38 607.24 L517.80 609.41 L518.22 611.52 L518.64 613.56 L519.07 615.54 L519.49 617.47 L519.91 619.34 L520.33 621.15 L520.76 622.91 L521.18 624.62 L521.60 626.28 L522.02 627.88 L522.44 629.44 L522.87 630.94 L523.29 632.40 L523.71 633.82 L524.13 635.18 L524.56 636.51 L524.98 637.79 L525.40 639.03 L525.82 640.22 L526.24 641.38 L526.67 642.50 L527.09 643.57 L527.51 644.61 L527.93 645.62 L528.36 646.58 L528.78 647.51 L529.20 648.41 L529.62 649.27 L530.04 650.10 L530.47 650.89 L530.89 651.66 L531.31 652.39 L531.73 653.09 L532.16 653.76 L532.58 654.40 L533.00 655.02 L533.42 655.60 L533.84 656.16 L534.27 656.69 L534.69 657.19 L535.11 657.67 L535.53 658.13 L535.96 658.55 L536.38 658.96 L536.80 659.34 L537.22 659.70 L537.64 660.03 L538.07 660.35 L538.49 660.64 L538.91 660.91 L539.33 661.16 L539.76 661.38 L540.18 661.59 L540.60 661.78 L541.02 661.95 L541.44 662.11 L541.87 662.24 L542.29 662.36 L542.71 662.46 L543.13 662.54 L543.56 662.60 L543.98 662.65 L544.40 662.69 L544.82 662.71 L545.24 662.71 L545.67 662.70 L546.09 662.67 L546.51 662.63 L546.93 662.58 L547.36 662.51 L547.78 662.43 L548.20 662.34 L548.62 662.23 L549.04 662.12 L549.47 661.99 L549.89 661.85 L550.31 661.69 L550.73 661.53 L551.16 661.36 L551.58 661.17 L552.00 660.98 L552.42 660.77 L552.84 660.56 L553.27 660.33 L554.33 659.73 L555.39 659.07 L556.45 658.36 L557.51 657.60 L558.57 656.80 L559.63 655.95 L560.69 655.06 L561.75 654.14 L562.81 653.18 L563.87 652.19 L564.93 651.17 L565.99 650.13 L567.05 649.05 L568.11 647.96 L569.17 646.84 L570.23 645.70 L571.29 644.54 L572.35 643.37 L573.41 642.18 L574.47 640.97 L575.53 639.76 L576.59 638.53 L577.65 637.29 L578.71 636.04 L579.77 634.78 L580.83 633.52 L581.89 632.25 L582.95 630.97 L584.01 629.69 L585.07 628.40 L586.13 627.11 L587.19 625.82 L588.25 624.53 L589.31 623.23 L590.37 621.94 L591.43 620.64 L592.49 619.35 L593.55 618.05 L594.61 616.76 L595.67 615.47 L596.73 614.18 L597.79 612.89 L598.85 611.61 L599.91 610.33 L600.97 609.05 L602.03 607.78 L603.09 606.51 L604.15 605.24 L605.21 603.98 L606.27 602.72 L607.33 601.47 L608.39 600.23 L609.45 598.99 L610.51 597.75 L611.57 596.52 L612.63 595.30 L613.69 594.08 L614.75 592.87 L615.81 591.66 L616.86 590.46 L617.92 589.27 L618.98 588.09 L620.04 586.91 L621.10 585.73 L622.16 584.57 L623.22 583.41 L624.28 582.25 L625.34 581.11 L626.40 579.97 L627.46 578.83 L628.52 577.71 L629.58 576.59 L630.64 575.48 L631.70 574.37 L632.76 573.27 L633.82 572.18 L634.88 571.10 L635.94 570.02 L637.00 568.95 L638.06 567.89 L639.12 566.83 L640.18 565.78 L641.24 564.74 L642.30 563.70 L643.36 562.67 L644.42 561.65 L645.48 560.64 L646.54 559.63 L647.60 558.63 L648.66 557.63 L649.72 556.65 L650.78 555.66 L651.84 554.69 L652.90 553.72 L653.96 552.76 L655.02 551.81 L656.08 550.86 L657.14 549.92 L658.20 548.98 L659.26 548.06 L660.32 547.13 L661.38 546.22 L662.44 545.31 L663.50 544.41 L664.56 543.51 L665.62 542.62 L666.68 541.74 L667.74 540.86 L668.80 539.99 L669.86 539.12 L670.92 538.26 L671.98 537.41 L673.04 536.56 L674.10 535.72 L675.16 534.89 L676.22 534.06 L677.28 533.23 L678.34 532.41 L679.40 531.60 L680.46 530.80 L681.52 530.00 L682.58 529.20 L683.64 528.41 L684.70 527.63 L685.76 526.85 L686.82 526.07 L687.88 525.31 L688.94 524.54 L690.00 523.79 L691.06 523.04 L692.12 522.29 L693.18 521.55 L694.24 520.81 L695.30 520.08 L696.36 519.36 L697.42 518.63 L698.48 517.92 L699.54 517.21 L700.60 516.50 L701.66 515.80 L702.72 515.11 L703.78 514.41 L704.84 513.73 L705.90 513.05 L706.96 512.37 L708.02 511.70 L709.08 511.03 L710.14 510.37 L711.20 509.71 L712.26 509.06 L713.32 508.41 L714.38 507.76 L715.44 507.12 L716.50 506.49 L717.56 505.85 L718.62 505.23 L719.68 504.60 L720.74 503.99 L721.80 503.37 L722.86 502.76 L723.92 502.16 L724.98 501.55 L726.04 500.96 L727.10 500.36 L728.16 499.77 L729.22 499.19 L730.28 498.61 L731.34 498.03 L732.40 497.46 L733.46 496.89 L734.52 496.32 L735.58 495.76 L736.64 495.20 L737.70 494.65 L738.76 494.09 L739.82 493.55 L740.88 493.00 L741.94 492.46 L743.00 491.93 L744.06 491.40 L745.12 490.87 L746.18 490.34 L747.24 489.82 L748.30 489.30 L749.36 488.79 L750.42 488.28 L751.48 487.77 L752.54 487.26 L753.60 486.76 L754.66 486.27 L755.72 485.77 L756.78 485.28 L757.84 484.79 L758.90 484.31 L759.96 483.83 L761.02 483.35 L762.08 482.87 L763.14 482.40 L764.20 481.93 L765.26 481.47 L766.32 481.00 L767.38 480.54 L768.44 480.09 L769.50 479.63 L770.56 479.18 L771.62 478.74 L772.68 478.29 L773.74 477.85 L774.80 477.41 L775.86 476.98 L776.92 476.54 L777.98 476.11 L779.04 475.68 L780.10 475.26 L781.16 474.84 L782.22 474.42 L783.28 474.00 L784.34 473.59 L785.40 473.18 L786.46 472.77 L787.52 472.36 L788.58 471.96 L789.64 471.56 L790.70 471.16 L791.76 470.77 L792.82 470.37 L793.88 469.98 L794.94 469.59 L796.00 469.21 L797.06 468.83 L798.12 468.45 L799.18 468.07 L800.24 467.69 L801.30 467.32 L802.36 466.95 L803.42 466.58 L804.48 466.21 L805.54 465.85 L806.60 465.49" stroke="#ff0000"/>
<path d="M502.60 455.73 L503.02 457.37 L503.44 459.00 L503.87 460.62 L504.29 462.22 L504.71 463.82 L505.13 465.39 L505.56 466.95 L505.98 468.48 L506.40 470.00 L506.82 471.50 L507.24 472.97 L507.67 474.42 L508.09 475.85 L508.51 477.26 L508.93 478.64 L509.36 479.99 L509.78 481.32 L510.20 482.63 L510.62 483.91 L511.04 485.17 L511.47 486.40 L511.89 487.61 L512.31 488.80 L512.73 489.96 L513.16 491.09 L513.58 492.20 L514.00 493.29 L514.42 494.36 L514.84 495.40 L515.27 496.42 L515.69 497.42 L516.11 498.40 L516.53 499.36 L516.96 500.29 L517.38 501.20 L517.80 502.10 L518.22 502.97 L518.64 503.82 L519.07 504.66 L519.49 505.47 L519.91 506.27 L520.33 507.05 L520.76 507.81 L521.18 508.56 L521.60 509.28 L522.02 509.99 L522.44 510.69 L522.87 511.36 L523.29 512.03 L523.71 512.67 L524.13 513.30 L524.56 513.92 L524.98 514.52 L525.40 515.11 L525.82 515.69 L526.24 516.25 L526.67 516.80 L527.09 517.33 L527.51 517.86 L527.93 518.37 L528.36 518.87 L528.78 519.35 L529.20 519.83 L529.62 520.29 L530.04 520.75 L530.47 521.19 L530.89 521.62 L531.31 522.04 L531.73 522.45 L532.16 522.86 L532.58 523.25 L533.00 523.63 L533.42 524.01 L533.84 524.37 L534.27 524.73 L534.69 525.07 L535.11 525.41 L535.53 525.75 L535.96 526.07 L536.38 526.38 L536.80 526.69 L537.22 526.99 L537.64 527.28 L538.07 527.57 L538.49 527.85 L538.91 528.12 L539.33 528.39 L539.76 528.64 L540.18 528.90 L540.60 529.14 L541.02 529.38 L541.44 529.62 L541.87 529.84 L542.29 530.07 L542.71 530.28 L543.13 530.49 L543.56 530.70 L543.98 530.90 L544.40 531.09 L544.82 531.29 L545.24 531.47 L545.67 531.65 L546.09 531.83 L546.51 532.00 L546.93 532.16 L547.36 532.33 L547.78 532.48 L548.20 532.64 L548.62 532.79 L549.04 532.93 L549.47 533.07 L549.89 533.21 L550.31 533.35 L550.73 533.48 L551.16 533.60 L551.58 533.72 L552.00 533.84 L552.42 533.96 L552.84 534.07 L553.27 534.18 L554.33 534.44 L555.39 534.68 L556.45 534.90 L557.51 535.11 L558.57 535.30 L559.63 535.47 L560.69 535.63 L561.75 535.77 L562.81 535.90 L563.87 536.02 L564.93 536.12 L565.99 536.22 L567.05 536.30 L568.11 536.37 L569.17 536.43 L570.23 536.49 L571.29 536.53 L572.35 536.56 L573.41 536.59 L574.47 536.61 L575.53 536.62 L576.59 536.62 L577.65 536.62 L578.71 536.61 L579.77 536.60 L580.83 536.58 L581.89 536.55 L582.95 536.52 L584.01 536.48 L585.07 536.44 L586.13 536.39 L587.19 536.34 L588.25 536.29 L589.31 536.23 L590.37 536.16 L591.43 536.10 L592.49 536.03 L593.55 535.95 L594.61 535.88 L595.67 535.80 L596.73 535.72 L597.79 535.63 L598.85 535.54 L599.91 535.45 L600.97 535.36 L602.03 535.27 L603.09 535.17 L604.15 535.07 L605.21 534.97 L606.27 534.86 L607.33 534.76 L608.39 534.65 L609.45 534.54 L610.51 534.43 L611.57 534.32 L612.63 534.21 L613.69 534.10 L614.75 533.98 L615.81 533.86 L616.86 533.75 L617.92 533.63 L618.98 533.51 L620.04 533.39 L621.10 533.26 L622.16 533.14 L623.22 533.02 L624.28 532.89 L625.34 532.77 L626.40 532.64 L627.46 532.51 L628.52 532.39 L629.58 532.26 L630.64 532.13 L631.70 532.00 L632.76 531.87 L633.82 531.74 L634.88 531.61 L635.94 531.48 L637.00 531.35 L638.06 531.21 L639.12 531.08 L640.18 530.95 L641.24 530.82 L642.30 530.68 L643.36 530.55 L644.42 530.41 L645.48 530.28 L646.54 530.15 L647.60 530.01 L648.66 529.88 L649.72 529.74 L650.78 529.61 L651.84 529.47 L652.90 529.34 L653.96 529.20 L655.02 529.07 L656.08 528.93 L657.14 528.79 L658.20 528.66 L659.26 528.52 L660.32 528.39 L661.38 528.25 L662.44 528.12 L663.50 527.98 L664.56 527.85 L665.62 527.71 L666.68 527.57 L667.74 527.44 L668.80 527.30 L669.86 527.17 L670.92 527.03 L671.98 526.90 L673.04 526.76 L674.10 526.63 L675.16 526.49 L676.22 526.36 L677.28 526.23 L678.34 526.09 L679.40 525.96 L680.46 525.82 L681.52 525.69 L682.58 525.56 L683.64 525.42 L684.70 525.29 L685.76 525.16 L686.82 525.02 L687.88 524.89 L688.94 524.76 L690.00 524.63 L691.06 524.49 L692.12 524.36 L693.18 524.23 L694.24 524.10 L695.30 523.97 L696.36 523.84 L697.42 523.71 L698.48 523.58 L699.54 523.45 L700.60 523.32 L701.66 523.19 L702.72 523.06 L703.78 522.93 L704.84 522.80 L705.90 522.67 L706.96 522.54 L708.02 522.42 L709.08 522.29 L710.14 522.16 L711.20 522.03 L712.26 521.91 L713.32 521.78 L714.38 521.65 L715.44 521.53 L716.50 521.40 L717.56 521.28 L718.62 521.15 L719.68 521.03 L720.74 520.90 L721.80 520.78 L722.86 520.65 L723.92 520.53 L724.98 520.41 L726.04 520.28 L727.10 520.16 L728.16 520.04 L729.22 519.92 L730.28 519.79 L731.34 519.67 L732.40 519.55 L733.46 519.43 L734.52 519.31 L735.58 519.19 L736.64 519.07 L737.70 518.95 L738.76 518.83 L739.82 518.71 L740.88 518.59 L741.94 518.47 L743.00 518.36 L744.06 518.24 L745.12 518.12 L746.18 518.00 L747.24 517.89 L748.30 517.77 L749.36 517.65 L750.42 517.54 L751.48 517.42 L752.54 517.31 L753.60 517.19 L754.66 517.08 L755.72 516.96 L756.78 516.85 L757.84 516.74 L758.90 516.62 L759.96 516.51 L761.02 516.40 L762.08 516.28 L763.14 516.17 L764.20 516.06 L765.26 515.95 L766.32 515.84 L767.38 515.73 L768.44 515.62 L769.50 515.51 L770.56 515.40 L771.62 515.29 L772.68 515.18 L773.74 515.07 L774.80 514.96 L775.86 514.85 L776.92 514.74 L777.98 514.64 L779.04 514.53 L780.10 514.42 L781.16 514.31 L782.22 514.21 L783.28 514.10 L784.34 514.00 L785.40 513.89 L786.46 513.78 L787.52 513.68 L788.58 513.57 L789.64 513.47 L790.70 513.37 L791.76 513.26 L792.82 513.16 L793.88 513.05 L794.94 512.95 L796.00 512.85 L797.06 512.75 L798.12 512.64 L799.18 512.54 L800.24 512.44 L801.30 512.34 L802.36 512.24 L803.42 512.14 L804.48 512.04 L805.54 511.94 L806.60 511.84" stroke="#00ff00"/>
<path d="M502.60 479.63 L503.02 482.94 L503.44 486.23 L503.87 489.50 L504.29 492.73 L504.71 495.93 L505.13 499.09 L505.56 502.20 L505.98 505.27 L506.40 508.29 L506.82 511.26 L507.24 514.18 L507.67 517.04 L508.09 519.86 L508.51 522.62 L508.93 525.32 L509.36 527.97 L509.78 530.57 L510.20 533.11 L510.62 535.60 L511.04 538.03 L511.47 540.40 L511.89 542.73 L512.31 544.99 L512.73 547.21 L513.16 549.37 L513.58 551.48 L514.00 553.54 L514.42 555.55 L514.84 557.51 L515.27 559.43 L515.69 561.29 L516.11 563.11 L516.53 564.88 L516.96 566.60 L517.38 568.28 L517.80 569.92 L518.22 571.51 L518.64 573.06 L519.07 574.57 L519.49 576.04 L519.91 577.47 L520.33 578.86 L520.76 580.22 L521.18 581.54 L521.60 582.82 L522.02 584.06 L522.44 585.27 L522.87 586.45 L523.29 587.60 L523.71 588.71 L524.13 589.79 L524.56 590.84 L524.98 591.86 L525.40 592.85 L525.82 593.81 L526.24 594.75 L526.67 595.65 L527.09 596.53 L527.51 597.39 L527.93 598.21 L528.36 599.02 L528.78 599.79 L529.20 600.55 L529.62 601.28 L530.04 601.99 L530.47 602.68 L530.89 603.34 L531.31 603.98 L531.73 604.61 L532.16 605.21 L532.58 605.79 L533.00 606.36 L533.42 606.90 L533.84 607.43 L534.27 607.94 L534.69 608.43 L535.11 608.90 L535.53 609.36 L535.96 609.80 L536.38 610.22 L536.80 610.63 L537.22 611.02 L537.64 611.40 L538.07 611.76 L538.49 612.11 L538.91 612.45 L539.33 612.77 L539.76 613.08 L540.18 613.37 L540.60 613.66 L541.02 613.93 L541.44 614.18 L541.87 614.43 L542.29 614.66 L542.71 614.89 L543.13 615.10 L543.56 615.30 L543.98 615.49 L544.40 615.67 L544.82 615.84 L545.24 615.99 L545.67 616.14 L546.09 616.28 L546.51 616.41 L546.93 616.53 L547.36 616.65 L547.78 616.75 L548.20 616.84 L548.62 616.93 L549.04 617.01 L549.47 617.08 L549.89 617.14 L550.31 617.20 L550.73 617.24 L551.16 617.28 L551.58 617.31 L552.00 617.34 L552.42 617.36 L552.84 617.37 L553.27 617.37 L554.33 617.36 L555.39 617.30 L556.45 617.21 L557.51 617.08 L558.57 616.92 L559.63 616.73 L560.69 616.51 L561.75 616.27 L562.81 615.99 L563.87 615.69 L564.93 615.37 L565.99 615.02 L567.05 614.65 L568.11 614.26 L569.17 613.86 L570.23 613.43 L571.29 612.99 L572.35 612.53 L573.41 612.05 L574.47 611.57 L575.53 611.06 L576.59 610.55 L577.65 610.02 L578.71 609.48 L579.77 608.93 L580.83 608.37 L581.89 607.80 L582.95 607.23 L584.01 606.64 L585.07 606.04 L586.13 605.44 L587.19 604.83 L588.25 604.22 L589.31 603.60 L590.37 602.97 L591.43 602.34 L592.49 601.70 L593.55 601.06 L594.61 600.42 L595.67 599.77 L596.73 599.12 L597.79 598.46 L598.85 597.80 L599.91 597.14 L600.97 596.48 L602.03 595.81 L603.09 595.14 L604.15 594.48 L605.21 593.81 L606.27 593.14 L607.33 592.46 L608.39 591.79 L609.45 591.12 L610.51 590.44 L611.57 589.77 L612.63 589.09 L613.69 588.42 L614.75 587.75 L615.81 587.07 L616.86 586.40 L617.92 585.73 L618.98 585.06 L620.04 584.38 L621.10 583.71 L622.16 583.05 L623.22 582.38 L624.28 581.71 L625.34 581.05 L626.40 580.38 L627.46 579.72 L628.52 579.06 L629.58 578.40 L630.64 577.74 L631.70 577.08 L632.76 576.43 L633.82 575.78 L634.88 575.13 L635.94 574.48 L637.00 573.83 L638.06 573.19 L639.12 572.55 L640.18 571.90 L641.24 571.27 L642.30 570.63 L643.36 570.00 L644.42 569.37 L645.48 568.74 L646.54 568.11 L647.60 567.48 L648.66 566.86 L649.72 566.24 L650.78 565.63 L651.84 565.01 L652.90 564.40 L653.96 563.79 L655.02 563.18 L656.08 562.57 L657.14 561.97 L658.20 561.37 L659.26 560.77 L660.32 560.18 L661.38 559.58 L662.44 558.99 L663.50 558.41 L664.56 557.82 L665.62 557.24 L666.68 556.66 L667.74 556.08 L668.80 555.50 L669.86 554.93 L670.92 554.36 L671.98 553.79 L673.04 553.23 L674.10 552.67 L675.16 552.10 L676.22 551.55 L677.28 550.99 L678.34 550.44 L679.40 549.89 L680.46 549.34 L681.52 548.79 L682.58 548.25 L683.64 547.71 L684.70 547.17 L685.76 546.64 L686.82 546.10 L687.88 545.57 L688.94 545.04 L690.00 544.52 L691.06 543.99 L692.12 543.47 L693.18 542.95 L694.24 542.43 L695.30 541.92 L696.36 541.41 L697.42 540.90 L698.48 540.39 L699.54 539.88 L700.60 539.38 L701.66 538.88 L702.72 538.38 L703.78 537.88 L704.84 537.39 L705.90 536.89 L706.96 536.40 L708.02 535.92 L709.08 535.43 L710.14 534.95 L711.20 534.47 L712.26 533.99 L713.32 533.51 L714.38 533.03 L715.44 532.56 L716.50 532.09 L717.56 531.62 L718.62 531.15 L719.68 530.69 L720.74 530.22 L721.80 529.76 L722.86 529.30 L723.92 528.85 L724.98 528.39 L726.04 527.94 L727.10 527.48 L728.16 527.03 L729.22 526.59 L730.28 526.14 L731.34 525.70 L732.40 525.25 L733.46 524.81 L734.52 524.38 L735.58 523.94 L736.64 523.50 L737.70 523.07 L738.76 522.64 L739.82 522.21 L740.88 521.78 L741.94 521.36 L743.00 520.93 L744.06 520.51 L745.12 520.09 L746.18 519.67 L747.24 519.25 L748.30 518.83 L749.36 518.42 L750.42 518.01 L751.48 517.60 L752.54 517.19 L753.60 516.78 L754.66 516.37 L755.72 515.97 L756.78 515.56 L757.84 515.16 L758.90 514.76 L759.96 514.36 L761.02 513.97 L762.08 513.57 L763.14 513.18 L764.20 512.78 L765.26 512.39 L766.32 512.00 L767.38 511.61 L768.44 511.23 L769.50 510.84 L770.56 510.46 L771.62 510.08 L772.68 509.69 L773.74 509.32 L774.80 508.94 L775.86 508.56 L776.92 508.18 L777.98 507.81 L779.04 507.44 L780.10 507.07 L781.16 506.70 L782.22 506.33 L783.28 505.96 L784.34 505.59 L785.40 505.23 L786.46 504.86 L787.52 504.50 L788.58 504.14 L789.64 503.78 L790.70 503.42 L791.76 503.06 L792.82 502.71 L793.88 502.35 L794.94 502.00 L796.00 501.65 L797.06 501.30 L798.12 500.95 L799.18 500.60 L800.24 500.25 L801.30 499.90 L802.36 499.56 L803.42 499.21 L804.48 498.87 L805.54 498.53 L806.60 498.19" stroke="#0000ff"/>
</g>
<rect x="502.60" y="417.50" width="304.00" height="304.00" fill="none" stroke="#000" stroke-width="1.15"/>
<path d="M502.60 721.50 v10.2 M553.27 721.50 v10.2 M603.93 721.50 v10.2 M654.60 721.50 v10.2 M705.27 721.50 v10.2 M755.93 721.50 v10.2 M806.60 721.50 v10.2 M527.93 721.50 v5.2 M578.60 721.50 v5.2 M629.27 721.50 v5.2 M679.93 721.50 v5.2 M730.60 721.50 v5.2 M781.27 721.50 v5.2 M502.60 721.50 h-10.2 M502.60 645.50 h-10.2 M502.60 569.50 h-10.2 M502.60 493.50 h-10.2 M502.60 417.50 h-10.2 M502.60 683.50 h-5.2 M502.60 607.50 h-5.2 M502.60 531.50 h-5.2 M502.60 455.50 h-5.2" stroke="#000" stroke-width="1.15" fill="none"/>
<text transform="translate(502.60 752.40) scale(0.97 1) rotate(0.03)" text-anchor="middle" class="tk">0</text>
<text transform="translate(553.27 752.40) scale(0.97 1) rotate(0.03)" text-anchor="middle" class="tk">1</text>
<text transform="translate(603.93 752.40) scale(0.97 1) rotate(0.03)" text-anchor="middle" class="tk">2</text>
<text transform="translate(654.60 752.40) scale(0.97 1) rotate(0.03)" text-anchor="middle" class="tk">3</text>
<text transform="translate(705.27 752.40) scale(0.97 1) rotate(0.03)" text-anchor="middle" class="tk">4</text>
<text transform="translate(755.93 752.40) scale(0.97 1) rotate(0.03)" text-anchor="middle" class="tk">5</text>
<text transform="translate(806.60 752.40) scale(0.97 1) rotate(0.03)" text-anchor="middle" class="tk">6</text>
<text transform="translate(483.30 727.10) scale(0.97 1) rotate(0.03)" text-anchor="end" class="tk">-0.8</text>
<text transform="translate(483.30 651.10) scale(0.97 1) rotate(0.03)" text-anchor="end" class="tk">-0.6</text>
<text transform="translate(483.30 575.10) scale(0.97 1) rotate(0.03)" text-anchor="end" class="tk">-0.4</text>
<text transform="translate(483.30 499.10) scale(0.97 1) rotate(0.03)" text-anchor="end" class="tk">-0.2</text>
<text transform="translate(483.30 423.10) scale(0.97 1) rotate(0.03)" text-anchor="end" class="tk">0.0</text>
<text transform="translate(436.30 411.80) rotate(0.03)" class="pl">d</text>
<g transform="translate(654.60 721.50)"><g transform="translate(-5.4 46.6)" fill="none" stroke="#000" stroke-linecap="round" stroke-linejoin="round"><path d="M2 2.7 C2.9 1.3 4 0.55 5 0.6 C6.2 0.7 6.9 1.5 7.9 1.8" stroke-width="1.0"/><path d="M10.4 0.45 L0.05 10.65" stroke-width="0.6"/><path d="M3.3 8.2 C4.1 9.3 5 10 6 10 C7.4 10 8.7 8.9 9.3 7.2" stroke-width="1.0"/><path d="M3 -3.3 C3.6 -4.4 4.3 -5 5 -5 C6 -5 6.8 -3.6 7.9 -3.5 C8.9 -3.5 9.7 -4 10.4 -4.7" stroke-width="0.65"/></g>
</g>
<g transform="translate(496.90 569.50)"><g transform="translate(-56.7 8.8) rotate(-90)" stroke-linecap="round" stroke-linejoin="round"><g transform="translate(4.5 -8.85) skewX(-14.9)"><path fill="#000" fill-rule="evenodd" stroke="none" d="M0 -8.85 C2.4 -8.85 4.2 -4.9 4.2 0 C4.2 4.9 2.4 8.85 0 8.85 C-2.4 8.85 -4.2 4.9 -4.2 0 C-4.2 -4.9 -2.4 -8.85 0 -8.85 Z M0 -8.3 C1.6 -8.3 2.9 -4.6 2.9 0 C2.9 4.6 1.6 8.3 0 8.3 C-1.6 8.3 -2.9 4.6 -2.9 0 C-2.9 -4.6 -1.6 -8.3 0 -8.3 Z"/><path d="M-3.3 0.1 L3.3 0.1" stroke="#000" stroke-width="0.6" fill="none"/></g><path d="M2.4 -21.2 C3.1 -22.5 3.9 -23.1 4.8 -22.8 C5.8 -22.4 6.5 -21.3 7.5 -21.3 C8.5 -21.3 9.4 -21.9 10 -22.8" fill="none" stroke="#000" stroke-width="0.75"/><circle cx="15.6" cy="-7.4" r="0.7" fill="#000"/><path d="M11.9 -2.4 C12.5 -3.9 13.5 -4.9 14.2 -4.7 C14.8 -4.5 14.6 -3.4 14.4 -2.6 L12.6 4.6 C12.3 6 11.4 6.8 10.5 6.6 C9.8 6.4 9.5 5.6 9.9 4.9" fill="none" stroke="#000" stroke-width="0.8"/></g>
</g>
</g>
</svg>
</body></html>
